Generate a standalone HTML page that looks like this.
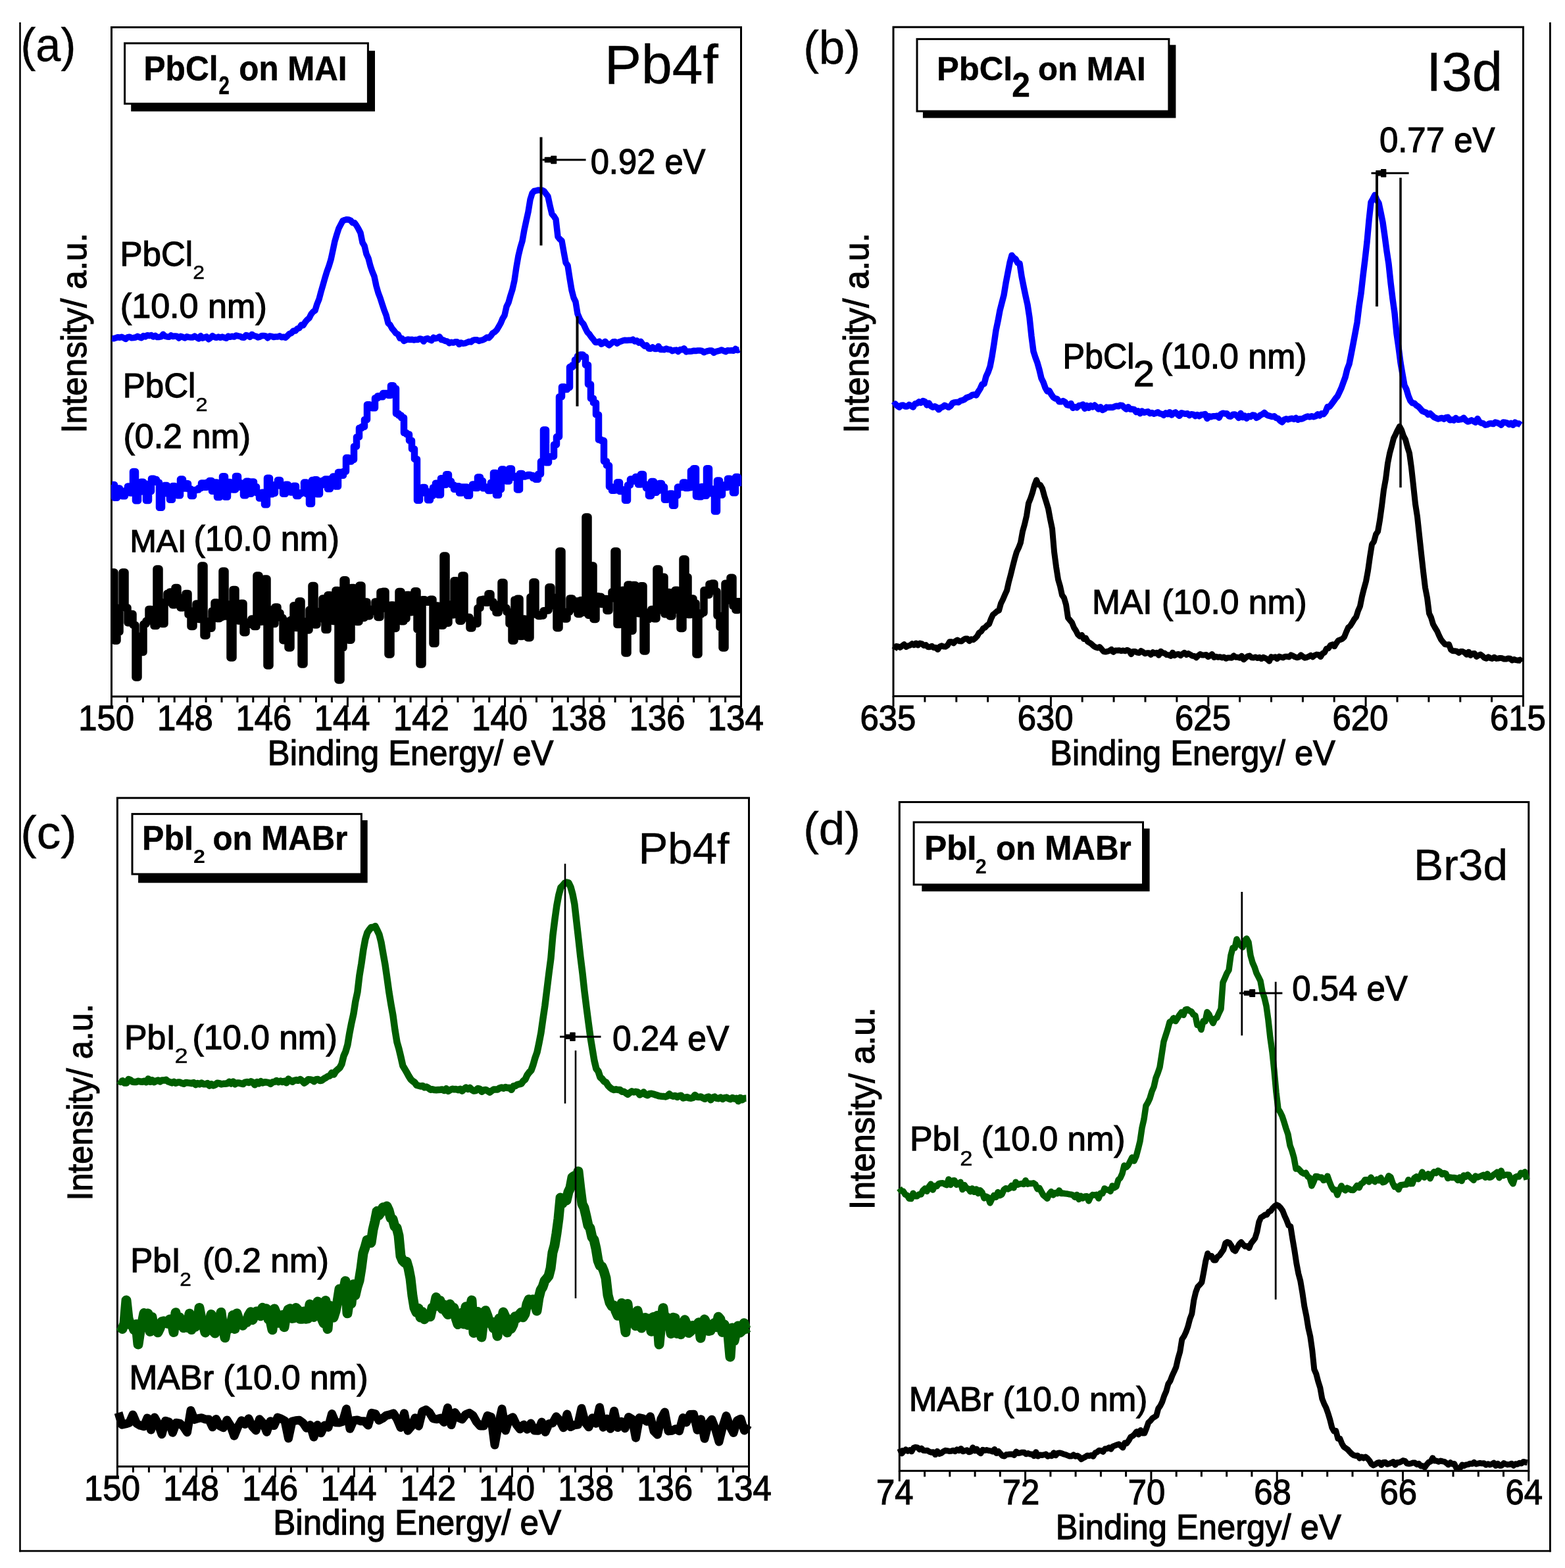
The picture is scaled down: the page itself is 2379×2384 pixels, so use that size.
<!DOCTYPE html>
<html><head><meta charset="utf-8"><title>XPS spectra</title>
<style>html,body{margin:0;padding:0;background:#fff;overflow:hidden;}svg{display:block;}text{font-family:'Liberation Sans', Arial, sans-serif;font-kerning:none;}</style>
</head><body>
<svg width="2379" height="2384" viewBox="0 0 2379 2384">
<rect width="2379" height="2384" fill="#fff"/>
<line x1="30.5" y1="34.0" x2="30.5" y2="2359.5" stroke="#000" stroke-width="2.6"/>
<line x1="29.2" y1="2358.2" x2="2357.8" y2="2358.2" stroke="#000" stroke-width="2.8"/>
<line x1="2356.4" y1="34.0" x2="2356.4" y2="2359.5" stroke="#000" stroke-width="2.8"/>
<rect x="169.5" y="41.5" width="957.0" height="1017.5" fill="none" stroke="#000" stroke-width="3"/>
<line x1="169.5" y1="1059.0" x2="169.5" y2="1075.0" stroke="#000" stroke-width="3"/>
<line x1="193.4" y1="1059.0" x2="193.4" y2="1068.0" stroke="#000" stroke-width="3"/>
<line x1="217.4" y1="1059.0" x2="217.4" y2="1068.0" stroke="#000" stroke-width="3"/>
<line x1="241.3" y1="1059.0" x2="241.3" y2="1068.0" stroke="#000" stroke-width="3"/>
<line x1="265.2" y1="1059.0" x2="265.2" y2="1068.0" stroke="#000" stroke-width="3"/>
<line x1="289.1" y1="1059.0" x2="289.1" y2="1075.0" stroke="#000" stroke-width="3"/>
<line x1="313.1" y1="1059.0" x2="313.1" y2="1068.0" stroke="#000" stroke-width="3"/>
<line x1="337.0" y1="1059.0" x2="337.0" y2="1068.0" stroke="#000" stroke-width="3"/>
<line x1="360.9" y1="1059.0" x2="360.9" y2="1068.0" stroke="#000" stroke-width="3"/>
<line x1="384.8" y1="1059.0" x2="384.8" y2="1068.0" stroke="#000" stroke-width="3"/>
<line x1="408.8" y1="1059.0" x2="408.8" y2="1075.0" stroke="#000" stroke-width="3"/>
<line x1="432.7" y1="1059.0" x2="432.7" y2="1068.0" stroke="#000" stroke-width="3"/>
<line x1="456.6" y1="1059.0" x2="456.6" y2="1068.0" stroke="#000" stroke-width="3"/>
<line x1="480.5" y1="1059.0" x2="480.5" y2="1068.0" stroke="#000" stroke-width="3"/>
<line x1="504.4" y1="1059.0" x2="504.4" y2="1068.0" stroke="#000" stroke-width="3"/>
<line x1="528.4" y1="1059.0" x2="528.4" y2="1075.0" stroke="#000" stroke-width="3"/>
<line x1="552.3" y1="1059.0" x2="552.3" y2="1068.0" stroke="#000" stroke-width="3"/>
<line x1="576.2" y1="1059.0" x2="576.2" y2="1068.0" stroke="#000" stroke-width="3"/>
<line x1="600.1" y1="1059.0" x2="600.1" y2="1068.0" stroke="#000" stroke-width="3"/>
<line x1="624.1" y1="1059.0" x2="624.1" y2="1068.0" stroke="#000" stroke-width="3"/>
<line x1="648.0" y1="1059.0" x2="648.0" y2="1075.0" stroke="#000" stroke-width="3"/>
<line x1="671.9" y1="1059.0" x2="671.9" y2="1068.0" stroke="#000" stroke-width="3"/>
<line x1="695.9" y1="1059.0" x2="695.9" y2="1068.0" stroke="#000" stroke-width="3"/>
<line x1="719.8" y1="1059.0" x2="719.8" y2="1068.0" stroke="#000" stroke-width="3"/>
<line x1="743.7" y1="1059.0" x2="743.7" y2="1068.0" stroke="#000" stroke-width="3"/>
<line x1="767.6" y1="1059.0" x2="767.6" y2="1075.0" stroke="#000" stroke-width="3"/>
<line x1="791.6" y1="1059.0" x2="791.6" y2="1068.0" stroke="#000" stroke-width="3"/>
<line x1="815.5" y1="1059.0" x2="815.5" y2="1068.0" stroke="#000" stroke-width="3"/>
<line x1="839.4" y1="1059.0" x2="839.4" y2="1068.0" stroke="#000" stroke-width="3"/>
<line x1="863.3" y1="1059.0" x2="863.3" y2="1068.0" stroke="#000" stroke-width="3"/>
<line x1="887.2" y1="1059.0" x2="887.2" y2="1075.0" stroke="#000" stroke-width="3"/>
<line x1="911.2" y1="1059.0" x2="911.2" y2="1068.0" stroke="#000" stroke-width="3"/>
<line x1="935.1" y1="1059.0" x2="935.1" y2="1068.0" stroke="#000" stroke-width="3"/>
<line x1="959.0" y1="1059.0" x2="959.0" y2="1068.0" stroke="#000" stroke-width="3"/>
<line x1="982.9" y1="1059.0" x2="982.9" y2="1068.0" stroke="#000" stroke-width="3"/>
<line x1="1006.9" y1="1059.0" x2="1006.9" y2="1075.0" stroke="#000" stroke-width="3"/>
<line x1="1030.8" y1="1059.0" x2="1030.8" y2="1068.0" stroke="#000" stroke-width="3"/>
<line x1="1054.7" y1="1059.0" x2="1054.7" y2="1068.0" stroke="#000" stroke-width="3"/>
<line x1="1078.6" y1="1059.0" x2="1078.6" y2="1068.0" stroke="#000" stroke-width="3"/>
<line x1="1102.6" y1="1059.0" x2="1102.6" y2="1068.0" stroke="#000" stroke-width="3"/>
<line x1="1126.5" y1="1059.0" x2="1126.5" y2="1075.0" stroke="#000" stroke-width="3"/>
<rect x="1358" y="41.2" width="957.5" height="1017.3" fill="none" stroke="#000" stroke-width="3"/>
<line x1="1358.0" y1="1058.5" x2="1358.0" y2="1074.5" stroke="#000" stroke-width="3"/>
<line x1="1405.9" y1="1058.5" x2="1405.9" y2="1067.5" stroke="#000" stroke-width="3"/>
<line x1="1453.8" y1="1058.5" x2="1453.8" y2="1067.5" stroke="#000" stroke-width="3"/>
<line x1="1501.6" y1="1058.5" x2="1501.6" y2="1067.5" stroke="#000" stroke-width="3"/>
<line x1="1549.5" y1="1058.5" x2="1549.5" y2="1067.5" stroke="#000" stroke-width="3"/>
<line x1="1597.4" y1="1058.5" x2="1597.4" y2="1074.5" stroke="#000" stroke-width="3"/>
<line x1="1645.2" y1="1058.5" x2="1645.2" y2="1067.5" stroke="#000" stroke-width="3"/>
<line x1="1693.1" y1="1058.5" x2="1693.1" y2="1067.5" stroke="#000" stroke-width="3"/>
<line x1="1741.0" y1="1058.5" x2="1741.0" y2="1067.5" stroke="#000" stroke-width="3"/>
<line x1="1788.9" y1="1058.5" x2="1788.9" y2="1067.5" stroke="#000" stroke-width="3"/>
<line x1="1836.8" y1="1058.5" x2="1836.8" y2="1074.5" stroke="#000" stroke-width="3"/>
<line x1="1884.6" y1="1058.5" x2="1884.6" y2="1067.5" stroke="#000" stroke-width="3"/>
<line x1="1932.5" y1="1058.5" x2="1932.5" y2="1067.5" stroke="#000" stroke-width="3"/>
<line x1="1980.4" y1="1058.5" x2="1980.4" y2="1067.5" stroke="#000" stroke-width="3"/>
<line x1="2028.2" y1="1058.5" x2="2028.2" y2="1067.5" stroke="#000" stroke-width="3"/>
<line x1="2076.1" y1="1058.5" x2="2076.1" y2="1074.5" stroke="#000" stroke-width="3"/>
<line x1="2124.0" y1="1058.5" x2="2124.0" y2="1067.5" stroke="#000" stroke-width="3"/>
<line x1="2171.9" y1="1058.5" x2="2171.9" y2="1067.5" stroke="#000" stroke-width="3"/>
<line x1="2219.8" y1="1058.5" x2="2219.8" y2="1067.5" stroke="#000" stroke-width="3"/>
<line x1="2267.6" y1="1058.5" x2="2267.6" y2="1067.5" stroke="#000" stroke-width="3"/>
<line x1="2315.5" y1="1058.5" x2="2315.5" y2="1074.5" stroke="#000" stroke-width="3"/>
<rect x="178.4" y="1213.2" width="960.1" height="1016.4999999999998" fill="none" stroke="#000" stroke-width="3"/>
<line x1="178.4" y1="2229.7" x2="178.4" y2="2245.7" stroke="#000" stroke-width="3"/>
<line x1="202.4" y1="2229.7" x2="202.4" y2="2238.7" stroke="#000" stroke-width="3"/>
<line x1="226.4" y1="2229.7" x2="226.4" y2="2238.7" stroke="#000" stroke-width="3"/>
<line x1="250.4" y1="2229.7" x2="250.4" y2="2238.7" stroke="#000" stroke-width="3"/>
<line x1="274.4" y1="2229.7" x2="274.4" y2="2238.7" stroke="#000" stroke-width="3"/>
<line x1="298.4" y1="2229.7" x2="298.4" y2="2245.7" stroke="#000" stroke-width="3"/>
<line x1="322.4" y1="2229.7" x2="322.4" y2="2238.7" stroke="#000" stroke-width="3"/>
<line x1="346.4" y1="2229.7" x2="346.4" y2="2238.7" stroke="#000" stroke-width="3"/>
<line x1="370.4" y1="2229.7" x2="370.4" y2="2238.7" stroke="#000" stroke-width="3"/>
<line x1="394.4" y1="2229.7" x2="394.4" y2="2238.7" stroke="#000" stroke-width="3"/>
<line x1="418.4" y1="2229.7" x2="418.4" y2="2245.7" stroke="#000" stroke-width="3"/>
<line x1="442.4" y1="2229.7" x2="442.4" y2="2238.7" stroke="#000" stroke-width="3"/>
<line x1="466.4" y1="2229.7" x2="466.4" y2="2238.7" stroke="#000" stroke-width="3"/>
<line x1="490.4" y1="2229.7" x2="490.4" y2="2238.7" stroke="#000" stroke-width="3"/>
<line x1="514.4" y1="2229.7" x2="514.4" y2="2238.7" stroke="#000" stroke-width="3"/>
<line x1="538.4" y1="2229.7" x2="538.4" y2="2245.7" stroke="#000" stroke-width="3"/>
<line x1="562.4" y1="2229.7" x2="562.4" y2="2238.7" stroke="#000" stroke-width="3"/>
<line x1="586.4" y1="2229.7" x2="586.4" y2="2238.7" stroke="#000" stroke-width="3"/>
<line x1="610.4" y1="2229.7" x2="610.4" y2="2238.7" stroke="#000" stroke-width="3"/>
<line x1="634.4" y1="2229.7" x2="634.4" y2="2238.7" stroke="#000" stroke-width="3"/>
<line x1="658.5" y1="2229.7" x2="658.5" y2="2245.7" stroke="#000" stroke-width="3"/>
<line x1="682.5" y1="2229.7" x2="682.5" y2="2238.7" stroke="#000" stroke-width="3"/>
<line x1="706.5" y1="2229.7" x2="706.5" y2="2238.7" stroke="#000" stroke-width="3"/>
<line x1="730.5" y1="2229.7" x2="730.5" y2="2238.7" stroke="#000" stroke-width="3"/>
<line x1="754.5" y1="2229.7" x2="754.5" y2="2238.7" stroke="#000" stroke-width="3"/>
<line x1="778.5" y1="2229.7" x2="778.5" y2="2245.7" stroke="#000" stroke-width="3"/>
<line x1="802.5" y1="2229.7" x2="802.5" y2="2238.7" stroke="#000" stroke-width="3"/>
<line x1="826.5" y1="2229.7" x2="826.5" y2="2238.7" stroke="#000" stroke-width="3"/>
<line x1="850.5" y1="2229.7" x2="850.5" y2="2238.7" stroke="#000" stroke-width="3"/>
<line x1="874.5" y1="2229.7" x2="874.5" y2="2238.7" stroke="#000" stroke-width="3"/>
<line x1="898.5" y1="2229.7" x2="898.5" y2="2245.7" stroke="#000" stroke-width="3"/>
<line x1="922.5" y1="2229.7" x2="922.5" y2="2238.7" stroke="#000" stroke-width="3"/>
<line x1="946.5" y1="2229.7" x2="946.5" y2="2238.7" stroke="#000" stroke-width="3"/>
<line x1="970.5" y1="2229.7" x2="970.5" y2="2238.7" stroke="#000" stroke-width="3"/>
<line x1="994.5" y1="2229.7" x2="994.5" y2="2238.7" stroke="#000" stroke-width="3"/>
<line x1="1018.5" y1="2229.7" x2="1018.5" y2="2245.7" stroke="#000" stroke-width="3"/>
<line x1="1042.5" y1="2229.7" x2="1042.5" y2="2238.7" stroke="#000" stroke-width="3"/>
<line x1="1066.5" y1="2229.7" x2="1066.5" y2="2238.7" stroke="#000" stroke-width="3"/>
<line x1="1090.5" y1="2229.7" x2="1090.5" y2="2238.7" stroke="#000" stroke-width="3"/>
<line x1="1114.5" y1="2229.7" x2="1114.5" y2="2238.7" stroke="#000" stroke-width="3"/>
<line x1="1138.5" y1="2229.7" x2="1138.5" y2="2245.7" stroke="#000" stroke-width="3"/>
<rect x="1367.3" y="1219.5" width="956.5000000000002" height="1016.8000000000002" fill="none" stroke="#000" stroke-width="3"/>
<line x1="1367.3" y1="2236.3" x2="1367.3" y2="2252.3" stroke="#000" stroke-width="3"/>
<line x1="1405.6" y1="2236.3" x2="1405.6" y2="2245.3" stroke="#000" stroke-width="3"/>
<line x1="1443.8" y1="2236.3" x2="1443.8" y2="2245.3" stroke="#000" stroke-width="3"/>
<line x1="1482.1" y1="2236.3" x2="1482.1" y2="2245.3" stroke="#000" stroke-width="3"/>
<line x1="1520.3" y1="2236.3" x2="1520.3" y2="2245.3" stroke="#000" stroke-width="3"/>
<line x1="1558.6" y1="2236.3" x2="1558.6" y2="2252.3" stroke="#000" stroke-width="3"/>
<line x1="1596.9" y1="2236.3" x2="1596.9" y2="2245.3" stroke="#000" stroke-width="3"/>
<line x1="1635.1" y1="2236.3" x2="1635.1" y2="2245.3" stroke="#000" stroke-width="3"/>
<line x1="1673.4" y1="2236.3" x2="1673.4" y2="2245.3" stroke="#000" stroke-width="3"/>
<line x1="1711.6" y1="2236.3" x2="1711.6" y2="2245.3" stroke="#000" stroke-width="3"/>
<line x1="1749.9" y1="2236.3" x2="1749.9" y2="2252.3" stroke="#000" stroke-width="3"/>
<line x1="1788.2" y1="2236.3" x2="1788.2" y2="2245.3" stroke="#000" stroke-width="3"/>
<line x1="1826.4" y1="2236.3" x2="1826.4" y2="2245.3" stroke="#000" stroke-width="3"/>
<line x1="1864.7" y1="2236.3" x2="1864.7" y2="2245.3" stroke="#000" stroke-width="3"/>
<line x1="1902.9" y1="2236.3" x2="1902.9" y2="2245.3" stroke="#000" stroke-width="3"/>
<line x1="1941.2" y1="2236.3" x2="1941.2" y2="2252.3" stroke="#000" stroke-width="3"/>
<line x1="1979.5" y1="2236.3" x2="1979.5" y2="2245.3" stroke="#000" stroke-width="3"/>
<line x1="2017.7" y1="2236.3" x2="2017.7" y2="2245.3" stroke="#000" stroke-width="3"/>
<line x1="2056.0" y1="2236.3" x2="2056.0" y2="2245.3" stroke="#000" stroke-width="3"/>
<line x1="2094.2" y1="2236.3" x2="2094.2" y2="2245.3" stroke="#000" stroke-width="3"/>
<line x1="2132.5" y1="2236.3" x2="2132.5" y2="2252.3" stroke="#000" stroke-width="3"/>
<line x1="2170.8" y1="2236.3" x2="2170.8" y2="2245.3" stroke="#000" stroke-width="3"/>
<line x1="2209.0" y1="2236.3" x2="2209.0" y2="2245.3" stroke="#000" stroke-width="3"/>
<line x1="2247.3" y1="2236.3" x2="2247.3" y2="2245.3" stroke="#000" stroke-width="3"/>
<line x1="2285.5" y1="2236.3" x2="2285.5" y2="2245.3" stroke="#000" stroke-width="3"/>
<line x1="2323.8" y1="2236.3" x2="2323.8" y2="2252.3" stroke="#000" stroke-width="3"/>
<text x="119.2" y="1110.0" font-size="53.5" stroke="#000" stroke-width="1.25" textLength="84.8" lengthAdjust="spacingAndGlyphs" fill="#000">150</text>
<text x="238.9" y="1110.0" font-size="53.5" stroke="#000" stroke-width="1.25" textLength="84.8" lengthAdjust="spacingAndGlyphs" fill="#000">148</text>
<text x="358.5" y="1110.0" font-size="53.5" stroke="#000" stroke-width="1.25" textLength="84.8" lengthAdjust="spacingAndGlyphs" fill="#000">146</text>
<text x="477.8" y="1110.0" font-size="53.5" stroke="#000" stroke-width="1.25" textLength="84.8" lengthAdjust="spacingAndGlyphs" fill="#000">144</text>
<text x="597.9" y="1110.0" font-size="53.5" stroke="#000" stroke-width="1.25" textLength="84.8" lengthAdjust="spacingAndGlyphs" fill="#000">142</text>
<text x="717.3" y="1110.0" font-size="53.5" stroke="#000" stroke-width="1.25" textLength="84.8" lengthAdjust="spacingAndGlyphs" fill="#000">140</text>
<text x="837.0" y="1110.0" font-size="53.5" stroke="#000" stroke-width="1.25" textLength="84.8" lengthAdjust="spacingAndGlyphs" fill="#000">138</text>
<text x="956.7" y="1110.0" font-size="53.5" stroke="#000" stroke-width="1.25" textLength="84.8" lengthAdjust="spacingAndGlyphs" fill="#000">136</text>
<text x="1075.9" y="1110.0" font-size="53.5" stroke="#000" stroke-width="1.25" textLength="84.8" lengthAdjust="spacingAndGlyphs" fill="#000">134</text>
<text x="1307.4" y="1110.0" font-size="53.5" stroke="#000" stroke-width="1.25" textLength="84.8" lengthAdjust="spacingAndGlyphs" fill="#000">635</text>
<text x="1546.7" y="1110.0" font-size="53.5" stroke="#000" stroke-width="1.25" textLength="84.8" lengthAdjust="spacingAndGlyphs" fill="#000">630</text>
<text x="1786.1" y="1110.0" font-size="53.5" stroke="#000" stroke-width="1.25" textLength="84.8" lengthAdjust="spacingAndGlyphs" fill="#000">625</text>
<text x="2025.4" y="1110.0" font-size="53.5" stroke="#000" stroke-width="1.25" textLength="84.8" lengthAdjust="spacingAndGlyphs" fill="#000">620</text>
<text x="2264.9" y="1110.0" font-size="53.5" stroke="#000" stroke-width="1.25" textLength="84.8" lengthAdjust="spacingAndGlyphs" fill="#000">615</text>
<text x="128.1" y="2280.5" font-size="53.5" stroke="#000" stroke-width="1.25" textLength="84.8" lengthAdjust="spacingAndGlyphs" fill="#000">150</text>
<text x="248.2" y="2280.5" font-size="53.5" stroke="#000" stroke-width="1.25" textLength="84.8" lengthAdjust="spacingAndGlyphs" fill="#000">148</text>
<text x="368.2" y="2280.5" font-size="53.5" stroke="#000" stroke-width="1.25" textLength="84.8" lengthAdjust="spacingAndGlyphs" fill="#000">146</text>
<text x="487.8" y="2280.5" font-size="53.5" stroke="#000" stroke-width="1.25" textLength="84.8" lengthAdjust="spacingAndGlyphs" fill="#000">144</text>
<text x="608.4" y="2280.5" font-size="53.5" stroke="#000" stroke-width="1.25" textLength="84.8" lengthAdjust="spacingAndGlyphs" fill="#000">142</text>
<text x="728.1" y="2280.5" font-size="53.5" stroke="#000" stroke-width="1.25" textLength="84.8" lengthAdjust="spacingAndGlyphs" fill="#000">140</text>
<text x="848.2" y="2280.5" font-size="53.5" stroke="#000" stroke-width="1.25" textLength="84.8" lengthAdjust="spacingAndGlyphs" fill="#000">138</text>
<text x="968.3" y="2280.5" font-size="53.5" stroke="#000" stroke-width="1.25" textLength="84.8" lengthAdjust="spacingAndGlyphs" fill="#000">136</text>
<text x="1087.9" y="2280.5" font-size="53.5" stroke="#000" stroke-width="1.25" textLength="84.8" lengthAdjust="spacingAndGlyphs" fill="#000">134</text>
<text x="1332.0" y="2286.5" font-size="53.5" stroke="#000" stroke-width="1.25" textLength="56.5" lengthAdjust="spacingAndGlyphs" fill="#000">74</text>
<text x="1523.8" y="2286.5" font-size="53.5" stroke="#000" stroke-width="1.25" textLength="56.5" lengthAdjust="spacingAndGlyphs" fill="#000">72</text>
<text x="1714.8" y="2286.5" font-size="53.5" stroke="#000" stroke-width="1.25" textLength="56.5" lengthAdjust="spacingAndGlyphs" fill="#000">70</text>
<text x="1906.2" y="2286.5" font-size="53.5" stroke="#000" stroke-width="1.25" textLength="56.5" lengthAdjust="spacingAndGlyphs" fill="#000">68</text>
<text x="2097.6" y="2286.5" font-size="53.5" stroke="#000" stroke-width="1.25" textLength="56.5" lengthAdjust="spacingAndGlyphs" fill="#000">66</text>
<text x="2288.5" y="2286.5" font-size="53.5" stroke="#000" stroke-width="1.25" textLength="56.5" lengthAdjust="spacingAndGlyphs" fill="#000">64</text>
<text x="406.8" y="1162.8" font-size="53.5" stroke="#000" stroke-width="1.25" textLength="434.6" lengthAdjust="spacingAndGlyphs" fill="#000">Binding Energy/ eV</text>
<text x="1596.1" y="1162.5" font-size="53.5" stroke="#000" stroke-width="1.25" textLength="433.8" lengthAdjust="spacingAndGlyphs" fill="#000">Binding Energy/ eV</text>
<text x="415.2" y="2333.0" font-size="53.5" stroke="#000" stroke-width="1.25" textLength="438.0" lengthAdjust="spacingAndGlyphs" fill="#000">Binding Energy/ eV</text>
<text x="1604.8" y="2339.5" font-size="53.5" stroke="#000" stroke-width="1.25" textLength="434.0" lengthAdjust="spacingAndGlyphs" fill="#000">Binding Energy/ eV</text>
<text transform="translate(130.7,654.0) rotate(-90)" x="-4.7" y="0" font-size="54.5" textLength="304.4" lengthAdjust="spacingAndGlyphs" stroke="#000" stroke-width="1.25">Intensity/ a.u.</text>
<text transform="translate(1319.7,654.0) rotate(-90)" x="-4.7" y="0" font-size="54.5" textLength="304.4" lengthAdjust="spacingAndGlyphs" stroke="#000" stroke-width="1.25">Intensity/ a.u.</text>
<text transform="translate(140.4,1821.0) rotate(-90)" x="-4.6" y="0" font-size="54.5" textLength="299.2" lengthAdjust="spacingAndGlyphs" stroke="#000" stroke-width="1.25">Intensity/ a.u.</text>
<text transform="translate(1328.5,1834.4) rotate(-90)" x="-4.8" y="0" font-size="54.5" textLength="307.5" lengthAdjust="spacingAndGlyphs" stroke="#000" stroke-width="1.25">Intensity/ a.u.</text>
<text x="31.5" y="93.0" font-size="72.0" stroke="#000" stroke-width="0.40" textLength="83.7" lengthAdjust="spacingAndGlyphs" fill="#000">(a)</text>
<text x="1221.2" y="96.5" font-size="72.0" stroke="#000" stroke-width="0.40" textLength="86.6" lengthAdjust="spacingAndGlyphs" fill="#000">(b)</text>
<text x="31.3" y="1290.0" font-size="70.0" stroke="#000" stroke-width="0.40" textLength="85.3" lengthAdjust="spacingAndGlyphs" fill="#000">(c)</text>
<text x="1221.2" y="1284.0" font-size="70.0" stroke="#000" stroke-width="0.40" textLength="86.6" lengthAdjust="spacingAndGlyphs" fill="#000">(d)</text>
<text x="919.1" y="126.5" font-size="83.0" stroke="#000" stroke-width="0.40" textLength="172.8" lengthAdjust="spacingAndGlyphs" fill="#000">Pb4f</text>
<text x="2168.3" y="138.0" font-size="84.0" stroke="#000" stroke-width="0.40" textLength="115.8" lengthAdjust="spacingAndGlyphs" fill="#000">I3d</text>
<text x="970.5" y="1313.4" font-size="67.0" stroke="#000" stroke-width="0.40" textLength="138.3" lengthAdjust="spacingAndGlyphs" fill="#000">Pb4f</text>
<text x="2149.1" y="1338.3" font-size="66.5" stroke="#000" stroke-width="0.40" textLength="143.0" lengthAdjust="spacingAndGlyphs" fill="#000">Br3d</text>
<rect x="199.2" y="77.2" width="370.8" height="92.2" fill="#000"/>
<rect x="189.6" y="65.8" width="369.79999999999995" height="91.89999999999999" fill="#fff" stroke="#000" stroke-width="3"/>
<text x="218.5" y="121.9" font-size="51.0" font-weight="bold" stroke="#000" stroke-width="0.50" textLength="113.0" lengthAdjust="spacingAndGlyphs" fill="#000">PbCl</text>
<text x="332.6" y="142.6" font-size="38.0" font-weight="bold" stroke="#000" stroke-width="0.50" textLength="16.4" lengthAdjust="spacingAndGlyphs" fill="#000">2</text>
<text x="363.3" y="121.9" font-size="51.0" font-weight="bold" stroke="#000" stroke-width="0.50" textLength="164.2" lengthAdjust="spacingAndGlyphs" fill="#000">on MAI</text>
<rect x="1402.9" y="68.3" width="384.5" height="111.10000000000001" fill="#000"/>
<rect x="1394" y="59.4" width="382.9000000000001" height="109.69999999999999" fill="#fff" stroke="#000" stroke-width="3"/>
<text x="1424.1" y="122.4" font-size="50.5" font-weight="bold" stroke="#000" stroke-width="0.50" textLength="115.3" lengthAdjust="spacingAndGlyphs" fill="#000">PbCl</text>
<text x="1538.3" y="146.8" font-size="51.5" font-weight="bold" stroke="#000" stroke-width="0.50" textLength="27.7" lengthAdjust="spacingAndGlyphs" fill="#000">2</text>
<text x="1578.1" y="122.4" font-size="50.5" font-weight="bold" stroke="#000" stroke-width="0.50" textLength="163.6" lengthAdjust="spacingAndGlyphs" fill="#000">on MAI</text>
<rect x="210.1" y="1247.1" width="348.6" height="95.20000000000005" fill="#000"/>
<rect x="201" y="1237.6" width="348.4" height="91.40000000000009" fill="#fff" stroke="#000" stroke-width="3"/>
<text x="216.1" y="1291.6" font-size="52.0" font-weight="bold" stroke="#000" stroke-width="0.50" textLength="77.8" lengthAdjust="spacingAndGlyphs" fill="#000">PbI</text>
<text x="293.9" y="1312.0" font-size="30.0" font-weight="bold" textLength="18.0" lengthAdjust="spacingAndGlyphs" fill="#000">2</text>
<text x="323.6" y="1291.6" font-size="52.0" font-weight="bold" stroke="#000" stroke-width="0.50" textLength="204.7" lengthAdjust="spacingAndGlyphs" fill="#000">on MABr</text>
<rect x="1401.3" y="1259.7" width="346.29999999999995" height="95.59999999999991" fill="#000"/>
<rect x="1389.1" y="1250.1" width="348.4000000000001" height="94.90000000000009" fill="#fff" stroke="#000" stroke-width="3"/>
<text x="1405.2" y="1307.0" font-size="52.0" font-weight="bold" stroke="#000" stroke-width="0.50" textLength="79.2" lengthAdjust="spacingAndGlyphs" fill="#000">PbI</text>
<text x="1482.8" y="1327.8" font-size="31.0" font-weight="bold" textLength="17.1" lengthAdjust="spacingAndGlyphs" fill="#000">2</text>
<text x="1514.1" y="1307.0" font-size="52.0" font-weight="bold" stroke="#000" stroke-width="0.50" textLength="205.7" lengthAdjust="spacingAndGlyphs" fill="#000">on MABr</text>
<polyline points="170.0,514.5 173.0,514.8 176.0,513.8 179.0,512.7 182.0,513.2 185.0,512.3 188.0,513.7 191.0,515.5 194.0,512.6 197.0,512.2 200.0,513.7 203.0,513.5 206.0,513.0 209.0,511.4 212.0,512.7 215.0,513.7 218.0,510.6 221.0,511.9 224.0,509.7 227.0,510.5 230.0,509.6 233.0,512.0 236.0,510.4 239.0,512.6 242.0,512.4 245.0,511.8 248.0,508.3 251.0,511.2 254.0,512.0 257.0,512.3 260.0,509.9 263.0,511.5 266.0,510.9 269.0,511.2 272.0,514.0 275.0,511.3 278.0,512.5 281.0,513.9 284.0,511.8 287.0,512.6 290.0,513.0 293.0,513.0 296.0,511.1 299.0,513.1 302.0,515.0 305.0,510.6 308.0,514.1 311.0,513.0 314.0,511.8 317.0,515.7 320.0,513.7 323.0,510.7 326.0,512.6 329.0,513.3 332.0,512.1 335.0,513.3 338.0,512.1 341.0,513.2 344.0,514.3 347.0,511.0 350.0,512.3 353.0,511.2 356.0,512.1 359.0,510.0 362.0,510.9 365.0,511.4 368.0,513.0 371.0,513.3 374.0,509.5 377.0,510.3 380.0,512.4 383.0,508.4 386.0,510.6 389.0,511.1 392.0,513.0 395.0,512.1 398.0,510.5 401.0,510.5 404.0,510.9 407.0,513.7 410.0,511.0 413.0,511.4 416.0,512.5 419.0,512.0 422.0,512.1 425.0,510.9 428.0,512.7 431.0,512.3 434.0,513.4 437.0,510.5 440.0,507.4 443.0,506.4 446.0,502.9 449.0,503.1 452.0,499.7 455.0,498.7 458.0,494.0 461.0,494.6 464.0,489.7 467.0,486.2 470.0,483.7 473.0,477.6 476.0,474.0 479.0,472.0 482.0,462.2 485.0,454.9 488.0,443.5 491.0,433.2 494.0,422.5 497.0,412.7 500.0,404.5 503.0,394.7 506.0,380.7 509.0,366.6 512.0,356.4 515.0,347.1 518.0,341.4 521.0,335.7 524.0,334.5 527.0,333.7 530.0,334.0 533.0,335.1 536.0,338.7 539.0,338.8 542.0,343.0 545.0,348.2 548.0,354.0 551.0,368.7 554.0,373.7 557.0,386.3 560.0,392.8 563.0,404.4 566.0,413.2 569.0,420.4 572.0,434.7 575.0,445.2 578.0,453.1 581.0,462.5 584.0,471.6 587.0,479.2 590.0,491.2 593.0,494.0 596.0,499.3 599.0,502.8 602.0,506.8 605.0,508.2 608.0,514.3 611.0,514.5 614.0,518.4 617.0,517.0 620.0,516.0 623.0,516.5 626.0,516.2 629.0,517.0 632.0,516.4 635.0,516.6 638.0,514.9 641.0,515.7 644.0,519.1 647.0,515.4 650.0,514.6 653.0,516.4 656.0,517.7 659.0,513.2 662.0,514.8 665.0,513.9 668.0,511.9 671.0,516.6 674.0,517.0 677.0,518.6 680.0,518.9 683.0,521.7 686.0,520.3 689.0,521.1 692.0,519.7 695.0,519.7 698.0,523.6 701.0,521.0 704.0,522.3 707.0,521.9 710.0,520.6 713.0,519.3 716.0,519.9 719.0,517.3 722.0,516.7 725.0,516.8 728.0,518.4 731.0,517.5 734.0,516.9 737.0,515.3 740.0,513.0 743.0,513.7 746.0,510.9 749.0,506.5 752.0,504.7 755.0,501.9 758.0,496.8 761.0,491.7 764.0,484.4 767.0,479.5 770.0,466.1 773.0,460.0 776.0,449.4 779.0,440.0 782.0,426.4 785.0,406.1 788.0,388.9 791.0,376.3 794.0,366.3 797.0,349.4 800.0,335.5 803.0,321.9 806.0,303.5 809.0,293.9 812.0,290.5 815.0,289.9 818.0,289.1 821.0,289.2 824.0,289.2 827.0,290.5 830.0,294.7 833.0,298.7 836.0,312.7 839.0,325.4 842.0,328.7 845.0,333.6 848.0,360.0 851.0,363.6 854.0,366.2 857.0,383.0 860.0,399.2 863.0,403.6 866.0,423.0 869.0,441.0 872.0,452.6 875.0,458.9 878.0,477.2 881.0,484.2 884.0,489.6 887.0,492.8 890.0,499.3 893.0,505.2 896.0,508.2 899.0,512.6 902.0,516.1 905.0,520.4 908.0,520.5 911.0,519.1 914.0,523.2 917.0,521.7 920.0,519.2 923.0,522.6 926.0,524.8 929.0,522.3 932.0,519.8 935.0,519.6 938.0,522.1 941.0,520.0 944.0,519.0 947.0,517.9 950.0,517.2 953.0,517.5 956.0,517.2 959.0,517.3 962.0,516.1 965.0,519.0 968.0,517.8 971.0,521.1 974.0,519.2 977.0,523.5 980.0,526.2 983.0,524.8 986.0,530.0 989.0,530.2 992.0,527.9 995.0,530.4 998.0,530.4 1001.0,526.5 1004.0,531.4 1007.0,531.3 1010.0,531.7 1013.0,530.0 1016.0,531.3 1019.0,531.6 1022.0,533.7 1025.0,532.5 1028.0,532.1 1031.0,534.5 1034.0,531.5 1037.0,531.8 1040.0,529.8 1043.0,535.0 1046.0,534.2 1049.0,534.2 1052.0,533.9 1055.0,533.2 1058.0,533.5 1061.0,532.9 1064.0,533.0 1067.0,533.5 1070.0,535.8 1073.0,534.5 1076.0,533.6 1079.0,533.0 1082.0,533.0 1085.0,536.4 1088.0,534.6 1091.0,533.9 1094.0,533.2 1097.0,531.9 1100.0,533.4 1103.0,534.7 1106.0,532.7 1109.0,532.9 1112.0,532.8 1115.0,533.2 1118.0,530.5 1121.0,532.5 1124.0,531.5" fill="none" stroke="#0000ff" stroke-width="9.5" stroke-linejoin="round" stroke-linecap="butt"/>
<polyline points="170.0,737.0 174.0,737.0 174.0,756.8 178.0,756.8 178.0,742.5 182.0,742.5 182.0,749.2 186.0,749.2 186.0,754.3 190.0,754.3 190.0,746.1 194.0,746.1 194.0,739.5 198.0,739.5 198.0,749.5 202.0,749.5 202.0,716.9 206.0,716.9 206.0,761.3 210.0,761.3 210.0,747.7 214.0,747.7 214.0,732.7 218.0,732.7 218.0,735.4 222.0,735.4 222.0,761.0 226.0,761.0 226.0,747.0 230.0,747.0 230.0,727.7 234.0,727.7 234.0,729.1 238.0,729.1 238.0,733.4 242.0,733.4 242.0,771.7 246.0,771.7 246.0,740.1 250.0,740.1 250.0,737.9 254.0,737.9 254.0,750.5 258.0,750.5 258.0,759.8 262.0,759.8 262.0,739.1 266.0,739.1 266.0,749.1 270.0,749.1 270.0,753.3 274.0,753.3 274.0,728.6 278.0,728.6 278.0,742.4 282.0,742.4 282.0,735.2 286.0,735.2 286.0,743.3 290.0,743.3 290.0,754.1 294.0,754.1 294.0,745.2 298.0,745.2 298.0,744.6 302.0,744.6 302.0,741.9 306.0,741.9 306.0,734.4 310.0,734.4 310.0,740.8 314.0,740.8 314.0,733.8 318.0,733.8 318.0,731.1 322.0,731.1 322.0,746.8 326.0,746.8 326.0,733.4 330.0,733.4 330.0,756.1 334.0,756.1 334.0,751.5 338.0,751.5 338.0,724.3 342.0,724.3 342.0,755.6 346.0,755.6 346.0,733.1 350.0,733.1 350.0,744.3 354.0,744.3 354.0,744.4 358.0,744.4 358.0,724.0 362.0,724.0 362.0,734.0 366.0,734.0 366.0,741.1 370.0,741.1 370.0,753.2 374.0,753.2 374.0,731.7 378.0,731.7 378.0,750.8 382.0,750.8 382.0,732.4 386.0,732.4 386.0,740.0 390.0,740.0 390.0,749.3 394.0,749.3 394.0,757.6 398.0,757.6 398.0,748.7 402.0,748.7 402.0,767.3 406.0,767.3 406.0,726.7 410.0,726.7 410.0,751.3 414.0,751.3 414.0,749.9 418.0,749.9 418.0,736.7 422.0,736.7 422.0,729.9 426.0,729.9 426.0,738.8 430.0,738.8 430.0,750.8 434.0,750.8 434.0,736.7 438.0,736.7 438.0,742.3 442.0,742.3 442.0,748.6 446.0,748.6 446.0,738.8 450.0,738.8 450.0,754.0 454.0,754.0 454.0,750.5 458.0,750.5 458.0,748.7 462.0,748.7 462.0,733.6 466.0,733.6 466.0,751.1 470.0,751.1 470.0,766.0 474.0,766.0 474.0,730.1 478.0,730.1 478.0,729.2 482.0,729.2 482.0,751.3 486.0,751.3 486.0,737.4 490.0,737.4 490.0,730.7 494.0,730.7 494.0,728.4 498.0,728.4 498.0,743.3 502.0,743.3 502.0,727.9 506.0,727.9 506.0,724.4 510.0,724.4 510.0,739.6 514.0,739.6 514.0,717.9 518.0,717.9 518.0,722.7 522.0,722.7 522.0,716.8 526.0,716.8 526.0,696.1 530.0,696.1 530.0,701.6 534.0,701.6 534.0,698.7 538.0,698.7 538.0,678.7 542.0,678.7 542.0,664.4 546.0,664.4 546.0,650.8 550.0,650.8 550.0,648.8 554.0,648.8 554.0,638.0 558.0,638.0 558.0,615.2 562.0,615.2 562.0,618.2 566.0,618.2 566.0,620.3 570.0,620.3 570.0,605.3 574.0,605.3 574.0,602.2 578.0,602.2 578.0,603.2 582.0,603.2 582.0,598.1 586.0,598.1 586.0,598.1 590.0,598.1 590.0,600.9 594.0,600.9 594.0,586.3 598.0,586.3 598.0,590.4 602.0,590.4 602.0,628.7 606.0,628.7 606.0,631.6 610.0,631.6 610.0,635.0 614.0,635.0 614.0,658.1 618.0,658.1 618.0,660.3 622.0,660.3 622.0,669.8 626.0,669.8 626.0,682.5 630.0,682.5 630.0,697.9 634.0,697.9 634.0,760.8 638.0,760.8 638.0,749.7 642.0,749.7 642.0,741.0 646.0,741.0 646.0,747.1 650.0,747.1 650.0,760.3 654.0,760.3 654.0,753.7 658.0,753.7 658.0,741.3 662.0,741.3 662.0,734.8 666.0,734.8 666.0,752.6 670.0,752.6 670.0,727.2 674.0,727.2 674.0,737.1 678.0,737.1 678.0,721.2 682.0,721.2 682.0,731.6 686.0,731.6 686.0,737.2 690.0,737.2 690.0,743.7 694.0,743.7 694.0,739.3 698.0,739.3 698.0,749.6 702.0,749.6 702.0,740.5 706.0,740.5 706.0,740.6 710.0,740.6 710.0,753.8 714.0,753.8 714.0,741.5 718.0,741.5 718.0,736.4 722.0,736.4 722.0,742.0 726.0,742.0 726.0,725.5 730.0,725.5 730.0,731.1 734.0,731.1 734.0,742.2 738.0,742.2 738.0,740.4 742.0,740.4 742.0,746.0 746.0,746.0 746.0,733.8 750.0,733.8 750.0,718.9 754.0,718.9 754.0,752.8 758.0,752.8 758.0,744.0 762.0,744.0 762.0,713.6 766.0,713.6 766.0,715.8 770.0,715.8 770.0,731.6 774.0,731.6 774.0,712.4 778.0,712.4 778.0,725.7 782.0,725.7 782.0,724.1 786.0,724.1 786.0,744.4 790.0,744.4 790.0,719.9 794.0,719.9 794.0,724.6 798.0,724.6 798.0,723.6 802.0,723.6 802.0,721.9 806.0,721.9 806.0,723.0 810.0,723.0 810.0,726.7 814.0,726.7 814.0,728.8 818.0,728.8 818.0,720.8 822.0,720.8 822.0,701.6 826.0,701.6 826.0,653.5 830.0,653.5 830.0,703.3 834.0,703.3 834.0,694.2 838.0,694.2 838.0,693.9 842.0,693.9 842.0,676.0 846.0,676.0 846.0,664.1 850.0,664.1 850.0,603.2 854.0,603.2 854.0,588.2 858.0,588.2 858.0,592.1 862.0,592.1 862.0,588.7 866.0,588.7 866.0,558.1 870.0,558.1 870.0,555.3 874.0,555.3 874.0,547.1 878.0,547.1 878.0,541.4 882.0,541.4 882.0,539.4 886.0,539.4 886.0,542.4 890.0,542.4 890.0,554.7 894.0,554.7 894.0,584.3 898.0,584.3 898.0,605.8 902.0,605.8 902.0,612.4 906.0,612.4 906.0,630.4 910.0,630.4 910.0,668.5 914.0,668.5 914.0,670.1 918.0,670.1 918.0,701.3 922.0,701.3 922.0,707.6 926.0,707.6 926.0,740.1 930.0,740.1 930.0,745.7 934.0,745.7 934.0,745.2 938.0,745.2 938.0,733.3 942.0,733.3 942.0,747.1 946.0,747.1 946.0,744.5 950.0,744.5 950.0,760.8 954.0,760.8 954.0,737.5 958.0,737.5 958.0,728.6 962.0,728.6 962.0,731.5 966.0,731.5 966.0,725.0 970.0,725.0 970.0,736.6 974.0,736.6 974.0,721.0 978.0,721.0 978.0,736.2 982.0,736.2 982.0,742.0 986.0,742.0 986.0,753.9 990.0,753.9 990.0,731.9 994.0,731.9 994.0,748.7 998.0,748.7 998.0,745.8 1002.0,745.8 1002.0,735.0 1006.0,735.0 1006.0,740.1 1010.0,740.1 1010.0,759.7 1014.0,759.7 1014.0,759.2 1018.0,759.2 1018.0,750.6 1022.0,750.6 1022.0,768.8 1026.0,768.8 1026.0,753.4 1030.0,753.4 1030.0,740.6 1034.0,740.6 1034.0,741.0 1038.0,741.0 1038.0,733.4 1042.0,733.4 1042.0,742.1 1046.0,742.1 1046.0,741.2 1050.0,741.2 1050.0,715.7 1054.0,715.7 1054.0,712.2 1058.0,712.2 1058.0,754.7 1062.0,754.7 1062.0,755.2 1066.0,755.2 1066.0,740.1 1070.0,740.1 1070.0,753.7 1074.0,753.7 1074.0,712.2 1078.0,712.2 1078.0,742.9 1082.0,742.9 1082.0,750.6 1086.0,750.6 1086.0,777.6 1090.0,777.6 1090.0,730.4 1094.0,730.4 1094.0,752.6 1098.0,752.6 1098.0,737.5 1102.0,737.5 1102.0,740.9 1106.0,740.9 1106.0,727.8 1110.0,727.8 1110.0,736.6 1114.0,736.6 1114.0,749.2 1118.0,749.2 1118.0,725.1 1122.0,725.1 1122.0,739.2" fill="none" stroke="#0000ff" stroke-width="10.5" stroke-linejoin="round" stroke-linecap="butt"/>
<polyline points="170.0,870.0 174.0,870.0 174.0,974.3 178.0,974.3 178.0,960.6 182.0,960.6 182.0,924.1 186.0,924.1 186.0,870.0 190.0,870.0 190.0,923.7 194.0,923.7 194.0,946.7 198.0,946.7 198.0,933.5 202.0,933.5 202.0,950.3 206.0,950.3 206.0,1030.0 210.0,1030.0 210.0,967.4 214.0,967.4 214.0,991.4 218.0,991.4 218.0,948.7 222.0,948.7 222.0,944.0 226.0,944.0 226.0,926.4 230.0,926.4 230.0,944.0 234.0,944.0 234.0,951.6 238.0,951.6 238.0,865.0 242.0,865.0 242.0,931.5 246.0,931.5 246.0,948.5 250.0,948.5 250.0,915.8 254.0,915.8 254.0,902.2 258.0,902.2 258.0,900.0 262.0,900.0 262.0,919.8 266.0,919.8 266.0,893.6 270.0,893.6 270.0,916.7 274.0,916.7 274.0,924.0 278.0,924.0 278.0,908.7 282.0,908.7 282.0,902.4 286.0,902.4 286.0,934.4 290.0,934.4 290.0,952.4 294.0,952.4 294.0,928.7 298.0,928.7 298.0,917.9 302.0,917.9 302.0,941.5 306.0,941.5 306.0,860.0 310.0,860.0 310.0,966.5 314.0,966.5 314.0,944.8 318.0,944.8 318.0,955.2 322.0,955.2 322.0,928.9 326.0,928.9 326.0,916.1 330.0,916.1 330.0,940.4 334.0,940.4 334.0,938.3 338.0,938.3 338.0,868.3 342.0,868.3 342.0,936.9 346.0,936.9 346.0,919.1 350.0,919.1 350.0,1000.0 354.0,1000.0 354.0,896.4 358.0,896.4 358.0,935.5 362.0,935.5 362.0,943.9 366.0,943.9 366.0,917.2 370.0,917.2 370.0,961.8 374.0,961.8 374.0,949.9 378.0,949.9 378.0,945.8 382.0,945.8 382.0,941.0 386.0,941.0 386.0,952.6 390.0,952.6 390.0,875.0 394.0,875.0 394.0,945.3 398.0,945.3 398.0,945.0 402.0,945.0 402.0,880.1 406.0,880.1 406.0,1012.0 410.0,1012.0 410.0,927.0 414.0,927.0 414.0,948.6 418.0,948.6 418.0,922.9 422.0,922.9 422.0,931.7 426.0,931.7 426.0,939.2 430.0,939.2 430.0,973.7 434.0,973.7 434.0,944.5 438.0,944.5 438.0,985.0 442.0,985.0 442.0,942.2 446.0,942.2 446.0,920.8 450.0,920.8 450.0,954.6 454.0,954.6 454.0,914.1 458.0,914.1 458.0,1010.0 462.0,1010.0 462.0,944.9 466.0,944.9 466.0,958.0 470.0,958.0 470.0,927.1 474.0,927.1 474.0,890.6 478.0,890.6 478.0,950.0 482.0,950.0 482.0,941.1 486.0,941.1 486.0,929.4 490.0,929.4 490.0,910.1 494.0,910.1 494.0,957.6 498.0,957.6 498.0,904.7 502.0,904.7 502.0,943.0 506.0,943.0 506.0,944.5 510.0,944.5 510.0,897.5 514.0,897.5 514.0,1034.0 518.0,1034.0 518.0,985.0 522.0,985.0 522.0,881.7 526.0,881.7 526.0,962.7 530.0,962.7 530.0,973.3 534.0,973.3 534.0,893.4 538.0,893.4 538.0,918.6 542.0,918.6 542.0,945.4 546.0,945.4 546.0,890.0 550.0,890.0 550.0,939.4 554.0,939.4 554.0,914.9 558.0,914.9 558.0,936.7 562.0,936.7 562.0,930.1 566.0,930.1 566.0,926.1 570.0,926.1 570.0,914.9 574.0,914.9 574.0,938.4 578.0,938.4 578.0,900.0 582.0,900.0 582.0,899.2 586.0,899.2 586.0,925.5 590.0,925.5 590.0,995.0 594.0,995.0 594.0,919.9 598.0,919.9 598.0,955.4 602.0,955.4 602.0,925.9 606.0,925.9 606.0,899.6 610.0,899.6 610.0,944.7 614.0,944.7 614.0,940.8 618.0,940.8 618.0,904.6 622.0,904.6 622.0,930.8 626.0,930.8 626.0,919.7 630.0,919.7 630.0,898.8 634.0,898.8 634.0,957.0 638.0,957.0 638.0,1010.0 642.0,1010.0 642.0,911.7 646.0,911.7 646.0,915.3 650.0,915.3 650.0,915.2 654.0,915.2 654.0,911.2 658.0,911.2 658.0,978.6 662.0,978.6 662.0,921.1 666.0,921.1 666.0,937.4 670.0,937.4 670.0,951.2 674.0,951.2 674.0,845.0 678.0,845.0 678.0,947.3 682.0,947.3 682.0,919.1 686.0,919.1 686.0,934.7 690.0,934.7 690.0,882.8 694.0,882.8 694.0,911.1 698.0,911.1 698.0,944.3 702.0,944.3 702.0,874.9 706.0,874.9 706.0,939.5 710.0,939.5 710.0,938.6 714.0,938.6 714.0,954.9 718.0,954.9 718.0,944.1 722.0,944.1 722.0,948.3 726.0,948.3 726.0,924.5 730.0,924.5 730.0,912.1 734.0,912.1 734.0,911.3 738.0,911.3 738.0,916.3 742.0,916.3 742.0,902.7 746.0,902.7 746.0,914.9 750.0,914.9 750.0,924.3 754.0,924.3 754.0,931.4 758.0,931.4 758.0,918.9 762.0,918.9 762.0,885.6 766.0,885.6 766.0,924.3 770.0,924.3 770.0,930.5 774.0,930.5 774.0,948.4 778.0,948.4 778.0,974.3 782.0,974.3 782.0,911.9 786.0,911.9 786.0,910.2 790.0,910.2 790.0,967.5 794.0,967.5 794.0,941.0 798.0,941.0 798.0,963.5 802.0,963.5 802.0,969.7 806.0,969.7 806.0,907.7 810.0,907.7 810.0,885.0 814.0,885.0 814.0,934.3 818.0,934.3 818.0,936.4 822.0,936.4 822.0,935.9 826.0,935.9 826.0,928.7 830.0,928.7 830.0,928.0 834.0,928.0 834.0,892.7 838.0,892.7 838.0,920.7 842.0,920.7 842.0,908.4 846.0,908.4 846.0,954.8 850.0,954.8 850.0,838.0 854.0,838.0 854.0,936.8 858.0,936.8 858.0,941.0 862.0,941.0 862.0,930.1 866.0,930.1 866.0,909.9 870.0,909.9 870.0,925.4 874.0,925.4 874.0,914.0 878.0,914.0 878.0,933.5 882.0,933.5 882.0,912.8 886.0,912.8 886.0,931.3 890.0,931.3 890.0,786.0 894.0,786.0 894.0,935.2 898.0,935.2 898.0,860.0 902.0,860.0 902.0,941.4 906.0,941.4 906.0,906.7 910.0,906.7 910.0,907.2 914.0,907.2 914.0,918.4 918.0,918.4 918.0,910.6 922.0,910.6 922.0,928.5 926.0,928.5 926.0,910.2 930.0,910.2 930.0,899.7 934.0,899.7 934.0,838.0 938.0,838.0 938.0,949.6 942.0,949.6 942.0,922.9 946.0,922.9 946.0,897.3 950.0,897.3 950.0,993.0 954.0,993.0 954.0,889.0 958.0,889.0 958.0,959.2 962.0,959.2 962.0,889.5 966.0,889.5 966.0,931.5 970.0,931.5 970.0,932.8 974.0,932.8 974.0,890.8 978.0,890.8 978.0,990.0 982.0,990.0 982.0,942.0 986.0,942.0 986.0,930.8 990.0,930.8 990.0,926.4 994.0,926.4 994.0,940.8 998.0,940.8 998.0,865.0 1002.0,865.0 1002.0,927.7 1006.0,927.7 1006.0,877.3 1010.0,877.3 1010.0,933.7 1014.0,933.7 1014.0,900.6 1018.0,900.6 1018.0,936.9 1022.0,936.9 1022.0,909.6 1026.0,909.6 1026.0,897.2 1030.0,897.2 1030.0,927.7 1034.0,927.7 1034.0,955.5 1038.0,955.5 1038.0,850.0 1042.0,850.0 1042.0,877.2 1046.0,877.2 1046.0,934.4 1050.0,934.4 1050.0,910.1 1054.0,910.1 1054.0,916.9 1058.0,916.9 1058.0,995.0 1062.0,995.0 1062.0,934.2 1066.0,934.2 1066.0,931.7 1070.0,931.7 1070.0,897.6 1074.0,897.6 1074.0,904.5 1078.0,904.5 1078.0,888.1 1082.0,888.1 1082.0,887.1 1086.0,887.1 1086.0,899.0 1090.0,899.0 1090.0,936.1 1094.0,936.1 1094.0,953.7 1098.0,953.7 1098.0,985.0 1102.0,985.0 1102.0,887.2 1106.0,887.2 1106.0,912.9 1110.0,912.9 1110.0,878.2 1114.0,878.2 1114.0,921.4 1118.0,921.4 1118.0,927.5 1122.0,927.5 1122.0,909.1" fill="none" stroke="#000" stroke-width="11.5" stroke-linejoin="round" stroke-linecap="butt"/>
<polyline points="1358.0,616.9 1361.0,614.3 1364.0,617.1 1367.0,619.2 1370.0,616.2 1373.0,616.1 1376.0,617.9 1379.0,617.9 1382.0,615.3 1385.0,617.0 1388.0,619.0 1391.0,614.0 1394.0,613.3 1397.0,610.9 1400.0,612.5 1403.0,609.5 1406.0,610.7 1409.0,615.9 1412.0,612.9 1415.0,617.4 1418.0,619.2 1421.0,617.8 1424.0,619.3 1427.0,622.8 1430.0,619.8 1433.0,618.7 1436.0,616.3 1439.0,617.7 1442.0,619.3 1445.0,617.3 1448.0,612.8 1451.0,611.9 1454.0,611.4 1457.0,611.8 1460.0,609.4 1463.0,608.7 1466.0,607.4 1469.0,604.8 1472.0,603.7 1475.0,602.6 1478.0,600.5 1481.0,600.0 1484.0,600.9 1487.0,595.6 1490.0,591.0 1493.0,584.2 1496.0,583.7 1499.0,572.2 1502.0,565.9 1505.0,557.4 1508.0,541.8 1511.0,522.9 1514.0,502.2 1517.0,488.1 1520.0,471.9 1523.0,460.3 1526.0,448.8 1529.0,430.4 1532.0,414.9 1535.0,399.3 1538.0,388.2 1541.0,391.9 1544.0,394.0 1547.0,399.7 1550.0,400.5 1553.0,420.1 1556.0,435.2 1559.0,449.7 1562.0,463.2 1565.0,482.9 1568.0,511.3 1571.0,534.3 1574.0,543.6 1577.0,551.7 1580.0,562.4 1583.0,575.2 1586.0,581.2 1589.0,589.7 1592.0,595.0 1595.0,594.0 1598.0,599.6 1601.0,603.8 1604.0,606.0 1607.0,606.4 1610.0,610.7 1613.0,610.8 1616.0,609.5 1619.0,611.3 1622.0,615.7 1625.0,616.4 1628.0,613.4 1631.0,620.3 1634.0,618.8 1637.0,619.9 1640.0,616.6 1643.0,616.6 1646.0,614.9 1649.0,621.3 1652.0,616.5 1655.0,620.2 1658.0,616.8 1661.0,618.9 1664.0,616.1 1667.0,619.0 1670.0,622.1 1673.0,618.7 1676.0,623.4 1679.0,622.0 1682.0,619.1 1685.0,619.6 1688.0,619.3 1691.0,619.6 1694.0,618.3 1697.0,617.3 1700.0,617.8 1703.0,616.1 1706.0,616.5 1709.0,619.6 1712.0,622.2 1715.0,618.7 1718.0,622.3 1721.0,622.1 1724.0,622.4 1727.0,626.5 1730.0,624.8 1733.0,628.7 1736.0,624.9 1739.0,627.3 1742.0,626.5 1745.0,625.8 1748.0,628.6 1751.0,627.5 1754.0,629.2 1757.0,628.3 1760.0,626.7 1763.0,628.8 1766.0,629.4 1769.0,631.3 1772.0,628.0 1775.0,629.7 1778.0,626.7 1781.0,631.1 1784.0,628.1 1787.0,626.9 1790.0,630.1 1793.0,632.3 1796.0,627.7 1799.0,628.6 1802.0,629.3 1805.0,628.7 1808.0,631.6 1811.0,629.7 1814.0,630.1 1817.0,632.6 1820.0,630.5 1823.0,632.8 1826.0,630.5 1829.0,630.4 1832.0,629.5 1835.0,636.4 1838.0,632.7 1841.0,633.7 1844.0,632.8 1847.0,632.8 1850.0,632.2 1853.0,635.2 1856.0,629.5 1859.0,628.2 1862.0,628.9 1865.0,628.7 1868.0,632.7 1871.0,633.2 1874.0,630.3 1877.0,629.9 1880.0,632.0 1883.0,635.5 1886.0,628.3 1889.0,634.6 1892.0,632.0 1895.0,636.2 1898.0,632.6 1901.0,633.6 1904.0,631.0 1907.0,631.5 1910.0,635.3 1913.0,633.8 1916.0,631.1 1919.0,629.8 1922.0,627.5 1925.0,630.4 1928.0,631.9 1931.0,632.7 1934.0,633.6 1937.0,632.7 1940.0,635.5 1943.0,636.4 1946.0,639.7 1949.0,641.7 1952.0,638.1 1955.0,636.8 1958.0,637.9 1961.0,636.8 1964.0,636.3 1967.0,637.4 1970.0,635.4 1973.0,638.2 1976.0,636.7 1979.0,636.9 1982.0,635.6 1985.0,634.1 1988.0,633.1 1991.0,633.9 1994.0,632.8 1997.0,633.7 2000.0,632.8 2003.0,629.8 2006.0,631.9 2009.0,628.8 2012.0,629.6 2015.0,626.0 2018.0,618.6 2021.0,618.4 2024.0,614.6 2027.0,610.4 2030.0,606.2 2033.0,602.7 2036.0,596.5 2039.0,590.0 2042.0,581.6 2045.0,573.5 2048.0,561.2 2051.0,553.4 2054.0,538.3 2057.0,522.6 2060.0,506.6 2063.0,490.3 2066.0,465.6 2069.0,445.8 2072.0,419.0 2075.0,394.5 2078.0,368.1 2081.0,335.1 2084.0,307.6 2087.0,302.2 2090.0,296.4 2093.0,304.0 2096.0,308.9 2099.0,323.3 2102.0,338.0 2105.0,359.1 2108.0,381.6 2111.0,401.2 2114.0,429.8 2117.0,454.3 2120.0,476.1 2123.0,507.2 2126.0,528.1 2129.0,551.5 2132.0,569.0 2135.0,585.9 2138.0,591.9 2141.0,602.1 2144.0,609.4 2147.0,612.7 2150.0,613.1 2153.0,616.4 2156.0,618.1 2159.0,621.3 2162.0,624.9 2165.0,626.3 2168.0,627.3 2171.0,630.4 2174.0,628.7 2177.0,631.5 2180.0,634.4 2183.0,635.7 2186.0,637.0 2189.0,636.2 2192.0,635.4 2195.0,637.1 2198.0,635.0 2201.0,634.3 2204.0,638.8 2207.0,638.1 2210.0,639.1 2213.0,635.6 2216.0,638.2 2219.0,637.9 2222.0,637.5 2225.0,635.2 2228.0,638.8 2231.0,641.1 2234.0,640.3 2237.0,638.9 2240.0,640.4 2243.0,642.3 2246.0,636.4 2249.0,641.6 2252.0,643.2 2255.0,643.9 2258.0,646.2 2261.0,645.6 2264.0,644.0 2267.0,643.8 2270.0,644.6 2273.0,642.0 2276.0,642.8 2279.0,644.3 2282.0,646.1 2285.0,642.1 2288.0,642.3 2291.0,643.1 2294.0,645.4 2297.0,643.3 2300.0,646.3 2303.0,642.2 2306.0,643.9 2309.0,644.1 2312.0,646.2" fill="none" stroke="#0000ff" stroke-width="9.5" stroke-linejoin="round" stroke-linecap="butt"/>
<polyline points="1359.5,987.9 1362.5,982.6 1365.5,982.9 1368.5,984.4 1371.5,981.9 1374.5,979.7 1377.5,983.5 1380.5,981.8 1383.5,981.1 1386.5,978.7 1389.5,980.7 1392.5,977.9 1395.5,981.0 1398.5,978.1 1401.5,978.9 1404.5,981.5 1407.5,980.5 1410.5,983.7 1413.5,983.7 1416.5,982.2 1419.5,984.7 1422.5,984.6 1425.5,987.6 1428.5,983.2 1431.5,981.8 1434.5,983.1 1437.5,983.2 1440.5,981.0 1443.5,975.8 1446.5,975.8 1449.5,977.9 1452.5,974.7 1455.5,973.0 1458.5,974.8 1461.5,975.1 1464.5,972.6 1467.5,970.9 1470.5,971.1 1473.5,974.7 1476.5,971.9 1479.5,972.8 1482.5,970.3 1485.5,967.2 1488.5,961.8 1491.5,960.1 1494.5,955.4 1497.5,954.1 1500.5,950.7 1503.5,948.9 1506.5,940.9 1509.5,934.5 1512.5,932.2 1515.5,929.5 1518.5,928.2 1521.5,917.6 1524.5,911.5 1527.5,904.4 1530.5,897.9 1533.5,884.6 1536.5,873.3 1539.5,861.0 1542.5,849.3 1545.5,839.1 1548.5,832.8 1551.5,824.8 1554.5,808.0 1557.5,797.3 1560.5,784.5 1563.5,765.3 1566.5,757.9 1569.5,748.9 1572.5,737.6 1575.5,729.8 1578.5,736.8 1581.5,737.5 1584.5,742.8 1587.5,753.8 1590.5,763.4 1593.5,773.4 1596.5,789.6 1599.5,804.0 1602.5,838.9 1605.5,861.7 1608.5,880.9 1611.5,891.3 1614.5,904.9 1617.5,909.0 1620.5,919.2 1623.5,939.4 1626.5,943.0 1629.5,946.7 1632.5,954.2 1635.5,958.8 1638.5,964.7 1641.5,967.5 1644.5,965.5 1647.5,971.5 1650.5,970.0 1653.5,975.6 1656.5,977.3 1659.5,979.4 1662.5,982.3 1665.5,984.0 1668.5,985.1 1671.5,983.5 1674.5,986.8 1677.5,990.5 1680.5,991.1 1683.5,990.3 1686.5,989.5 1689.5,987.3 1692.5,991.4 1695.5,988.9 1698.5,989.0 1701.5,988.8 1704.5,989.7 1707.5,989.0 1710.5,989.8 1713.5,988.2 1716.5,989.7 1719.5,994.7 1722.5,990.6 1725.5,990.5 1728.5,992.1 1731.5,992.7 1734.5,989.6 1737.5,991.4 1740.5,993.7 1743.5,992.7 1746.5,992.7 1749.5,995.5 1752.5,991.7 1755.5,993.3 1758.5,992.4 1761.5,996.3 1764.5,990.3 1767.5,992.8 1770.5,993.3 1773.5,995.6 1776.5,995.8 1779.5,997.4 1782.5,992.2 1785.5,996.6 1788.5,994.9 1791.5,994.4 1794.5,996.7 1797.5,994.2 1800.5,992.3 1803.5,995.5 1806.5,993.6 1809.5,995.3 1812.5,997.3 1815.5,997.4 1818.5,999.8 1821.5,996.8 1824.5,994.5 1827.5,996.1 1830.5,995.9 1833.5,995.5 1836.5,998.6 1839.5,996.8 1842.5,994.6 1845.5,999.5 1848.5,998.2 1851.5,999.2 1854.5,998.8 1857.5,999.9 1860.5,999.0 1863.5,1001.3 1866.5,999.9 1869.5,1000.0 1872.5,1000.2 1875.5,996.9 1878.5,999.3 1881.5,999.2 1884.5,1000.1 1887.5,997.3 1890.5,1002.8 1893.5,1000.1 1896.5,997.8 1899.5,997.0 1902.5,999.7 1905.5,1000.1 1908.5,999.0 1911.5,1000.6 1914.5,999.3 1917.5,1001.5 1920.5,999.3 1923.5,1000.6 1926.5,1002.4 1929.5,1005.2 1932.5,998.7 1935.5,999.6 1938.5,998.8 1941.5,1001.7 1944.5,998.1 1947.5,999.2 1950.5,1000.0 1953.5,998.2 1956.5,998.2 1959.5,998.9 1962.5,995.9 1965.5,997.1 1968.5,998.8 1971.5,999.8 1974.5,999.1 1977.5,996.0 1980.5,998.2 1983.5,1000.2 1986.5,999.5 1989.5,998.1 1992.5,996.4 1995.5,998.9 1998.5,996.4 2001.5,995.1 2004.5,995.5 2007.5,998.6 2010.5,993.4 2013.5,992.1 2016.5,986.1 2019.5,985.7 2022.5,981.0 2025.5,979.9 2028.5,982.8 2031.5,977.8 2034.5,973.7 2037.5,972.6 2040.5,971.3 2043.5,968.4 2046.5,960.9 2049.5,954.1 2052.5,951.7 2055.5,946.9 2058.5,941.7 2061.5,938.1 2064.5,928.6 2067.5,921.7 2070.5,906.6 2073.5,894.7 2076.5,883.9 2079.5,867.6 2082.5,846.4 2085.5,827.7 2088.5,823.4 2091.5,812.6 2094.5,808.1 2097.5,791.0 2100.5,769.3 2103.5,744.8 2106.5,728.2 2109.5,704.5 2112.5,689.3 2115.5,678.4 2118.5,666.6 2121.5,660.5 2124.5,654.0 2127.5,648.3 2130.5,653.6 2133.5,662.7 2136.5,668.4 2139.5,679.6 2142.5,689.1 2145.5,711.0 2148.5,738.3 2151.5,766.2 2154.5,785.5 2157.5,813.8 2160.5,841.6 2163.5,868.5 2166.5,893.5 2169.5,908.8 2172.5,932.6 2175.5,939.0 2178.5,949.1 2181.5,954.5 2184.5,959.3 2187.5,966.2 2190.5,972.3 2193.5,976.1 2196.5,979.5 2199.5,980.1 2202.5,979.7 2205.5,987.7 2208.5,989.8 2211.5,989.8 2214.5,990.2 2217.5,992.6 2220.5,990.5 2223.5,990.6 2226.5,992.2 2229.5,995.2 2232.5,991.2 2235.5,996.4 2238.5,993.7 2241.5,993.5 2244.5,998.4 2247.5,996.5 2250.5,995.0 2253.5,997.3 2256.5,1000.2 2259.5,1001.2 2262.5,998.8 2265.5,1000.6 2268.5,1001.4 2271.5,999.3 2274.5,1001.4 2277.5,1001.0 2280.5,1000.4 2283.5,1000.8 2286.5,1002.1 2289.5,1002.1 2292.5,1001.0 2295.5,1001.2 2298.5,1004.0 2301.5,1002.4 2304.5,1003.6 2307.5,1004.2 2310.5,1003.1 2313.5,1006.1" fill="none" stroke="#000" stroke-width="9" stroke-linejoin="round" stroke-linecap="butt"/>
<polyline points="180.4,1642.6 183.4,1645.0 186.4,1643.3 189.4,1646.6 192.4,1646.4 195.4,1640.9 198.4,1642.3 201.4,1644.8 204.4,1645.0 207.4,1644.9 210.4,1643.7 213.4,1644.5 216.4,1644.8 219.4,1643.7 222.4,1645.3 225.4,1640.4 228.4,1644.8 231.4,1642.2 234.4,1645.2 237.4,1643.5 240.4,1642.5 243.4,1644.4 246.4,1642.4 249.4,1642.6 252.4,1641.8 255.4,1644.3 258.4,1645.3 261.4,1646.4 264.4,1644.8 267.4,1646.8 270.4,1645.5 273.4,1645.6 276.4,1646.8 279.4,1647.8 282.4,1645.9 285.4,1646.3 288.4,1646.6 291.4,1647.2 294.4,1646.0 297.4,1649.1 300.4,1647.1 303.4,1648.4 306.4,1646.5 309.4,1648.2 312.4,1648.3 315.4,1647.1 318.4,1650.7 321.4,1648.3 324.4,1650.4 327.4,1649.1 330.4,1646.7 333.4,1647.1 336.4,1648.4 339.4,1647.8 342.4,1647.8 345.4,1647.3 348.4,1645.0 351.4,1647.4 354.4,1644.4 357.4,1648.3 360.4,1646.6 363.4,1646.6 366.4,1647.4 369.4,1648.1 372.4,1645.6 375.4,1645.1 378.4,1646.0 381.4,1644.3 384.4,1645.7 387.4,1649.3 390.4,1645.1 393.4,1647.5 396.4,1644.2 399.4,1646.5 402.4,1645.3 405.4,1645.5 408.4,1646.2 411.4,1647.8 414.4,1645.2 417.4,1644.9 420.4,1643.0 423.4,1645.1 426.4,1643.6 429.4,1645.0 432.4,1643.7 435.4,1646.3 438.4,1640.6 441.4,1643.1 444.4,1644.7 447.4,1642.8 450.4,1642.1 453.4,1642.8 456.4,1641.1 459.4,1643.2 462.4,1646.6 465.4,1644.6 468.4,1641.2 471.4,1641.4 474.4,1642.1 477.4,1644.1 480.4,1641.3 483.4,1641.1 486.4,1643.0 489.4,1642.5 492.4,1640.1 495.4,1638.5 498.4,1636.5 501.4,1635.7 504.4,1631.2 507.4,1633.6 510.4,1628.8 513.4,1626.0 516.4,1623.5 519.4,1618.0 522.4,1605.7 525.4,1598.8 528.4,1588.5 531.4,1570.4 534.4,1555.1 537.4,1541.7 540.4,1522.3 543.4,1508.5 546.4,1483.2 549.4,1465.0 552.4,1443.8 555.4,1427.8 558.4,1417.9 561.4,1413.6 564.4,1409.9 567.4,1410.1 570.4,1408.2 573.4,1414.4 576.4,1420.8 579.4,1432.5 582.4,1449.6 585.4,1466.2 588.4,1486.9 591.4,1508.7 594.4,1527.1 597.4,1543.8 600.4,1565.9 603.4,1584.2 606.4,1594.6 609.4,1607.3 612.4,1620.6 615.4,1625.5 618.4,1630.7 621.4,1636.1 624.4,1640.9 627.4,1643.8 630.4,1645.7 633.4,1650.0 636.4,1650.7 639.4,1651.5 642.4,1650.9 645.4,1653.3 648.4,1652.6 651.4,1654.3 654.4,1656.7 657.4,1656.3 660.4,1657.1 663.4,1657.3 666.4,1656.9 669.4,1656.7 672.4,1656.4 675.4,1658.0 678.4,1655.3 681.4,1658.9 684.4,1657.0 687.4,1655.8 690.4,1656.3 693.4,1656.0 696.4,1657.2 699.4,1655.9 702.4,1658.7 705.4,1655.8 708.4,1653.6 711.4,1655.9 714.4,1654.0 717.4,1656.9 720.4,1658.6 723.4,1658.0 726.4,1655.0 729.4,1655.9 732.4,1659.7 735.4,1657.5 738.4,1657.0 741.4,1658.6 744.4,1660.6 747.4,1658.5 750.4,1656.5 753.4,1656.5 756.4,1656.5 759.4,1654.4 762.4,1653.4 765.4,1654.7 768.4,1652.9 771.4,1653.9 774.4,1653.8 777.4,1656.8 780.4,1651.5 783.4,1650.9 786.4,1649.1 789.4,1648.3 792.4,1647.6 795.4,1643.5 798.4,1641.1 801.4,1634.6 804.4,1630.5 807.4,1627.4 810.4,1619.1 813.4,1608.5 816.4,1600.1 819.4,1585.8 822.4,1570.2 825.4,1549.1 828.4,1528.7 831.4,1504.4 834.4,1479.8 837.4,1457.1 840.4,1422.0 843.4,1398.0 846.4,1376.4 849.4,1360.6 852.4,1349.4 855.4,1346.4 858.4,1342.9 861.4,1341.6 864.4,1342.4 867.4,1348.5 870.4,1359.3 873.4,1374.8 876.4,1401.4 879.4,1427.8 882.4,1455.1 885.4,1479.1 888.4,1506.7 891.4,1530.8 894.4,1553.9 897.4,1576.3 900.4,1594.6 903.4,1612.5 906.4,1625.0 909.4,1628.7 912.4,1637.9 915.4,1640.4 918.4,1644.2 921.4,1645.7 924.4,1650.6 927.4,1653.6 930.4,1655.9 933.4,1657.0 936.4,1656.3 939.4,1657.0 942.4,1657.0 945.4,1659.7 948.4,1659.7 951.4,1661.8 954.4,1663.8 957.4,1661.3 960.4,1659.3 963.4,1660.5 966.4,1659.8 969.4,1660.4 972.4,1664.4 975.4,1663.0 978.4,1660.6 981.4,1664.1 984.4,1665.2 987.4,1663.0 990.4,1662.8 993.4,1663.5 996.4,1664.6 999.4,1665.4 1002.4,1666.4 1005.4,1666.7 1008.4,1666.9 1011.4,1667.4 1014.4,1666.5 1017.4,1663.5 1020.4,1665.8 1023.4,1666.7 1026.4,1665.9 1029.4,1668.0 1032.4,1666.4 1035.4,1665.7 1038.4,1669.5 1041.4,1668.6 1044.4,1668.1 1047.4,1669.4 1050.4,1669.8 1053.4,1669.0 1056.4,1665.0 1059.4,1667.7 1062.4,1668.1 1065.4,1667.4 1068.4,1669.3 1071.4,1670.8 1074.4,1668.4 1077.4,1667.5 1080.4,1672.3 1083.4,1668.7 1086.4,1667.6 1089.4,1669.9 1092.4,1670.2 1095.4,1668.6 1098.4,1671.0 1101.4,1669.1 1104.4,1668.6 1107.4,1670.3 1110.4,1671.2 1113.4,1669.0 1116.4,1670.5 1119.4,1669.9 1122.4,1674.2 1125.4,1668.9 1128.4,1672.1 1131.4,1669.9 1134.4,1669.8" fill="none" stroke="#005e00" stroke-width="10.5" stroke-linejoin="round" stroke-linecap="butt"/>
<polyline points="180.0,2015.5 183.0,2017.1 186.0,2020.5 189.0,2012.2 192.0,1977.0 195.0,2004.5 198.0,2014.0 201.0,2014.7 204.0,2022.1 207.0,2013.4 210.0,2044.0 213.0,2023.4 216.0,2011.3 219.0,1996.5 222.0,1999.3 225.0,1997.1 228.0,2024.4 231.0,2002.5 234.0,2021.3 237.0,2015.6 240.0,2025.8 243.0,2019.5 246.0,2009.6 249.0,2008.8 252.0,2011.4 255.0,2012.3 258.0,2006.0 261.0,2010.6 264.0,2025.4 267.0,1995.7 270.0,2013.4 273.0,2003.0 276.0,2012.9 279.0,2018.8 282.0,2010.8 285.0,2018.4 288.0,1997.2 291.0,2021.5 294.0,2006.2 297.0,2017.3 300.0,2013.4 303.0,1988.5 306.0,2005.1 309.0,2013.9 312.0,2025.9 315.0,2014.3 318.0,2013.8 321.0,1998.5 324.0,2023.8 327.0,2027.0 330.0,2010.7 333.0,2008.3 336.0,1995.4 339.0,2017.7 342.0,2033.8 345.0,2015.7 348.0,2020.4 351.0,2013.7 354.0,1999.7 357.0,2020.4 360.0,1997.0 363.0,2005.9 366.0,2010.1 369.0,2015.3 372.0,2010.9 375.0,2010.4 378.0,1999.8 381.0,1994.8 384.0,2006.7 387.0,1999.5 390.0,1993.9 393.0,1994.0 396.0,2000.8 399.0,1988.3 402.0,1992.6 405.0,1989.8 408.0,2005.9 411.0,2007.7 414.0,2021.8 417.0,1990.0 420.0,1997.2 423.0,2011.3 426.0,2000.8 429.0,1999.6 432.0,2017.7 435.0,1999.0 438.0,1991.4 441.0,1989.7 444.0,2004.4 447.0,2003.9 450.0,1988.5 453.0,1991.8 456.0,2005.2 459.0,2005.3 462.0,1994.1 465.0,2005.3 468.0,2004.6 471.0,1983.1 474.0,1996.1 477.0,2002.4 480.0,1993.3 483.0,1979.0 486.0,1995.4 489.0,2004.5 492.0,2011.7 495.0,1977.5 498.0,2020.5 501.0,1985.2 504.0,2002.3 507.0,2003.1 510.0,1993.6 513.0,1978.9 516.0,1959.9 519.0,1974.3 522.0,1963.1 525.0,1947.8 528.0,1996.8 531.0,1976.8 534.0,1982.0 537.0,1952.7 540.0,1969.4 543.0,1956.4 546.0,1947.2 549.0,1928.7 552.0,1905.5 555.0,1896.4 558.0,1885.6 561.0,1884.9 564.0,1889.4 567.0,1869.4 570.0,1857.0 573.0,1841.6 576.0,1847.7 579.0,1843.2 582.0,1835.8 585.0,1839.3 588.0,1834.0 591.0,1840.5 594.0,1852.0 597.0,1853.6 600.0,1864.9 603.0,1866.7 606.0,1878.5 609.0,1909.7 612.0,1916.7 615.0,1919.6 618.0,1918.2 621.0,1928.4 624.0,1943.8 627.0,1970.3 630.0,1988.4 633.0,1995.3 636.0,1989.2 639.0,2002.9 642.0,1994.5 645.0,2005.7 648.0,2002.0 651.0,2001.6 654.0,2001.8 657.0,1988.3 660.0,1987.1 663.0,1972.5 666.0,1985.1 669.0,1977.4 672.0,1990.0 675.0,1983.7 678.0,1994.4 681.0,1998.6 684.0,1982.9 687.0,1989.1 690.0,1988.5 693.0,2004.2 696.0,2013.5 699.0,2006.3 702.0,1996.1 705.0,2013.0 708.0,1986.8 711.0,2014.4 714.0,1995.6 717.0,1977.1 720.0,2026.5 723.0,2017.4 726.0,1994.5 729.0,2005.9 732.0,2033.0 735.0,2006.4 738.0,1992.7 741.0,2000.5 744.0,2011.4 747.0,2009.8 750.0,2019.3 753.0,2010.0 756.0,2031.2 759.0,2004.4 762.0,2013.9 765.0,1995.1 768.0,2001.9 771.0,2025.9 774.0,2006.2 777.0,2020.3 780.0,2014.2 783.0,2001.7 786.0,2004.3 789.0,1999.1 792.0,1995.6 795.0,2002.8 798.0,1997.9 801.0,1982.8 804.0,1975.8 807.0,1982.8 810.0,1975.7 813.0,1982.1 816.0,1993.0 819.0,1973.0 822.0,1961.4 825.0,1956.5 828.0,1947.3 831.0,1943.8 834.0,1940.0 837.0,1928.4 840.0,1904.2 843.0,1893.6 846.0,1875.1 849.0,1852.8 852.0,1821.1 855.0,1829.9 858.0,1822.7 861.0,1825.2 864.0,1812.2 867.0,1806.0 870.0,1790.0 873.0,1788.0 876.0,1796.3 879.0,1781.0 882.0,1807.7 885.0,1830.5 888.0,1836.4 891.0,1849.1 894.0,1863.1 897.0,1867.3 900.0,1881.0 903.0,1885.2 906.0,1898.2 909.0,1916.5 912.0,1924.4 915.0,1925.6 918.0,1932.9 921.0,1943.2 924.0,1969.1 927.0,1980.7 930.0,1985.7 933.0,1984.7 936.0,1993.5 939.0,2000.2 942.0,1999.8 945.0,1981.4 948.0,2004.6 951.0,2025.5 954.0,1982.5 957.0,2009.6 960.0,2004.7 963.0,2001.1 966.0,2015.7 969.0,1992.9 972.0,2006.2 975.0,2019.1 978.0,2004.7 981.0,2003.5 984.0,2009.3 987.0,2005.0 990.0,2024.3 993.0,2002.5 996.0,2019.8 999.0,2000.5 1002.0,2044.0 1005.0,2011.5 1008.0,1988.8 1011.0,2012.8 1014.0,2003.2 1017.0,2009.2 1020.0,2027.7 1023.0,2003.3 1026.0,2004.1 1029.0,2027.4 1032.0,2015.3 1035.0,2028.7 1038.0,2017.6 1041.0,2006.7 1044.0,2014.4 1047.0,2026.6 1050.0,2024.1 1053.0,2015.6 1056.0,2016.3 1059.0,2015.0 1062.0,2010.8 1065.0,2034.2 1068.0,2016.5 1071.0,2006.1 1074.0,2012.3 1077.0,2023.6 1080.0,2023.0 1083.0,2015.9 1086.0,2011.2 1089.0,2017.7 1092.0,2002.2 1095.0,2005.8 1098.0,2025.4 1101.0,2013.7 1104.0,2021.7 1107.0,2029.7 1110.0,2063.0 1113.0,2018.9 1116.0,2038.6 1119.0,2025.2 1122.0,2015.9 1125.0,2026.1 1128.0,2023.3 1131.0,2011.7 1134.0,2020.5 1137.0,2018.4" fill="none" stroke="#005e00" stroke-width="15" stroke-linejoin="round" stroke-linecap="butt"/>
<polyline points="180.0,2147.8 185.5,2166.2 191.0,2165.0 196.5,2163.3 202.0,2150.9 207.5,2164.1 213.0,2167.3 218.5,2168.7 224.0,2155.9 229.5,2174.1 235.0,2155.0 240.5,2165.1 246.0,2180.8 251.5,2160.2 257.0,2162.0 262.5,2178.3 268.0,2163.3 273.5,2164.1 279.0,2169.4 284.5,2177.8 290.0,2144.4 295.5,2158.4 301.0,2156.6 306.5,2155.7 312.0,2158.0 317.5,2158.1 323.0,2169.8 328.5,2157.5 334.0,2167.9 339.5,2170.7 345.0,2159.0 350.5,2167.8 356.0,2183.2 361.5,2169.7 367.0,2159.8 372.5,2165.6 378.0,2156.8 383.5,2168.9 389.0,2174.9 394.5,2157.7 400.0,2163.9 405.5,2177.3 411.0,2160.7 416.5,2167.6 422.0,2155.1 427.5,2157.1 433.0,2160.1 438.5,2187.0 444.0,2161.1 449.5,2159.8 455.0,2159.3 460.5,2163.2 466.0,2171.3 471.5,2166.6 477.0,2185.1 482.5,2166.6 488.0,2178.8 493.5,2167.0 499.0,2170.2 504.5,2149.6 510.0,2162.7 515.5,2163.1 521.0,2161.3 526.5,2142.1 532.0,2172.3 537.5,2159.6 543.0,2158.9 548.5,2160.7 554.0,2160.8 559.5,2167.1 565.0,2148.3 570.5,2149.5 576.0,2159.5 581.5,2156.6 587.0,2152.1 592.5,2150.8 598.0,2148.9 603.5,2157.4 609.0,2170.4 614.5,2148.7 620.0,2175.2 625.5,2168.6 631.0,2155.7 636.5,2168.2 642.0,2145.9 647.5,2143.4 653.0,2147.9 658.5,2156.9 664.0,2157.8 669.5,2156.1 675.0,2162.4 680.5,2140.2 686.0,2166.6 691.5,2147.6 697.0,2155.3 702.5,2157.9 708.0,2150.5 713.5,2148.4 719.0,2152.1 724.5,2162.0 730.0,2168.1 735.5,2167.9 741.0,2152.3 746.5,2154.4 752.0,2197.0 757.5,2166.9 763.0,2142.1 768.5,2174.9 774.0,2157.7 779.5,2154.7 785.0,2166.0 790.5,2172.9 796.0,2166.1 801.5,2173.2 807.0,2164.1 812.5,2175.1 818.0,2175.3 823.5,2161.9 829.0,2177.3 834.5,2164.6 840.0,2163.8 845.5,2153.8 851.0,2160.1 856.5,2170.8 862.0,2150.0 867.5,2169.6 873.0,2166.7 878.5,2166.0 884.0,2141.2 889.5,2162.3 895.0,2169.8 900.5,2155.7 906.0,2164.3 911.5,2139.7 917.0,2170.2 922.5,2156.9 928.0,2172.3 933.5,2145.2 939.0,2170.6 944.5,2161.3 950.0,2171.8 955.5,2154.5 961.0,2157.6 966.5,2186.2 972.0,2155.6 977.5,2156.8 983.0,2161.2 988.5,2153.8 994.0,2175.9 999.5,2181.3 1005.0,2157.0 1010.5,2146.9 1016.0,2175.9 1021.5,2175.3 1027.0,2172.5 1032.5,2175.8 1038.0,2155.6 1043.5,2162.7 1049.0,2150.5 1054.5,2150.2 1060.0,2174.3 1065.5,2157.8 1071.0,2187.3 1076.5,2165.3 1082.0,2158.2 1087.5,2172.6 1093.0,2192.0 1098.5,2169.6 1104.0,2152.6 1109.5,2168.5 1115.0,2178.6 1120.5,2159.9 1126.0,2157.2 1131.5,2175.1 1137.0,2166.4" fill="none" stroke="#000" stroke-width="13" stroke-linejoin="round" stroke-linecap="butt"/>
<polyline points="1367.0,1806.7 1370.0,1810.6 1373.0,1811.2 1376.0,1816.1 1379.0,1817.3 1382.0,1822.2 1385.0,1822.6 1388.0,1814.3 1391.0,1818.7 1394.0,1818.7 1397.0,1815.9 1400.0,1816.1 1403.0,1809.9 1406.0,1807.1 1409.0,1811.3 1412.0,1804.3 1415.0,1800.3 1418.0,1809.1 1421.0,1803.1 1424.0,1803.6 1427.0,1799.6 1430.0,1799.0 1433.0,1798.8 1436.0,1800.4 1439.0,1801.8 1442.0,1793.1 1445.0,1801.5 1448.0,1794.9 1451.0,1794.8 1454.0,1801.3 1457.0,1800.3 1460.0,1797.2 1463.0,1808.6 1466.0,1801.7 1469.0,1806.3 1472.0,1807.2 1475.0,1811.7 1478.0,1807.0 1481.0,1812.3 1484.0,1808.0 1487.0,1814.5 1490.0,1809.7 1493.0,1813.0 1496.0,1821.8 1499.0,1819.1 1502.0,1820.6 1505.0,1829.0 1508.0,1822.8 1511.0,1817.4 1514.0,1820.2 1517.0,1812.6 1520.0,1817.6 1523.0,1816.0 1526.0,1808.8 1529.0,1806.7 1532.0,1807.9 1535.0,1806.4 1538.0,1802.4 1541.0,1806.1 1544.0,1797.3 1547.0,1801.1 1550.0,1800.2 1553.0,1799.6 1556.0,1800.4 1559.0,1794.8 1562.0,1800.1 1565.0,1799.3 1568.0,1799.4 1571.0,1798.8 1574.0,1800.9 1577.0,1807.7 1580.0,1806.2 1583.0,1811.7 1586.0,1817.1 1589.0,1819.5 1592.0,1822.3 1595.0,1815.4 1598.0,1811.8 1601.0,1816.9 1604.0,1813.5 1607.0,1814.6 1610.0,1810.0 1613.0,1814.5 1616.0,1814.3 1619.0,1814.8 1622.0,1815.1 1625.0,1815.7 1628.0,1816.1 1631.0,1817.0 1634.0,1820.2 1637.0,1816.5 1640.0,1823.5 1643.0,1818.3 1646.0,1821.9 1649.0,1818.9 1652.0,1818.8 1655.0,1825.9 1658.0,1819.2 1661.0,1816.6 1664.0,1817.1 1667.0,1816.4 1670.0,1822.0 1673.0,1814.2 1676.0,1814.6 1679.0,1806.9 1682.0,1809.1 1685.0,1809.0 1688.0,1811.4 1691.0,1802.9 1694.0,1805.8 1697.0,1803.9 1700.0,1793.9 1703.0,1790.9 1706.0,1784.2 1709.0,1772.0 1712.0,1774.8 1715.0,1771.5 1718.0,1765.5 1721.0,1759.7 1724.0,1765.1 1727.0,1758.4 1730.0,1747.3 1733.0,1735.1 1736.0,1714.7 1739.0,1701.6 1742.0,1681.3 1745.0,1676.3 1748.0,1669.7 1751.0,1659.5 1754.0,1652.5 1757.0,1639.1 1760.0,1631.5 1763.0,1622.6 1766.0,1603.2 1769.0,1583.6 1772.0,1574.2 1775.0,1565.0 1778.0,1553.9 1781.0,1552.2 1784.0,1547.8 1787.0,1552.6 1790.0,1548.0 1793.0,1543.0 1796.0,1539.0 1799.0,1543.3 1802.0,1535.2 1805.0,1534.4 1808.0,1536.8 1811.0,1538.0 1814.0,1542.5 1817.0,1544.1 1820.0,1558.6 1823.0,1557.9 1826.0,1565.5 1829.0,1552.5 1832.0,1553.1 1835.0,1538.8 1838.0,1542.5 1841.0,1550.0 1844.0,1555.5 1847.0,1548.7 1850.0,1547.2 1853.0,1540.2 1856.0,1533.9 1859.0,1493.7 1862.0,1487.0 1865.0,1479.9 1868.0,1474.8 1871.0,1452.5 1874.0,1441.2 1877.0,1441.2 1880.0,1427.9 1883.0,1435.0 1886.0,1437.3 1889.0,1440.2 1892.0,1430.2 1895.0,1426.9 1898.0,1432.4 1901.0,1452.7 1904.0,1463.5 1907.0,1470.3 1910.0,1479.5 1913.0,1485.3 1916.0,1491.3 1919.0,1507.8 1922.0,1516.9 1925.0,1529.6 1928.0,1551.2 1931.0,1578.4 1934.0,1599.6 1937.0,1627.9 1940.0,1660.7 1943.0,1686.1 1946.0,1690.8 1949.0,1697.0 1952.0,1706.1 1955.0,1716.0 1958.0,1724.8 1961.0,1741.7 1964.0,1749.7 1967.0,1760.3 1970.0,1777.0 1973.0,1776.4 1976.0,1779.4 1979.0,1782.7 1982.0,1784.4 1985.0,1783.2 1988.0,1788.9 1991.0,1790.8 1994.0,1803.0 1997.0,1796.7 2000.0,1788.5 2003.0,1788.8 2006.0,1790.2 2009.0,1790.0 2012.0,1794.5 2015.0,1793.5 2018.0,1788.2 2021.0,1796.9 2024.0,1804.2 2027.0,1809.0 2030.0,1808.9 2033.0,1816.8 2036.0,1809.3 2039.0,1802.9 2042.0,1807.4 2045.0,1810.0 2048.0,1806.2 2051.0,1807.6 2054.0,1809.3 2057.0,1809.6 2060.0,1806.4 2063.0,1802.4 2066.0,1805.7 2069.0,1799.9 2072.0,1798.2 2075.0,1793.8 2078.0,1793.8 2081.0,1797.1 2084.0,1790.1 2087.0,1794.6 2090.0,1796.7 2093.0,1793.2 2096.0,1794.8 2099.0,1790.6 2102.0,1797.6 2105.0,1796.8 2108.0,1794.0 2111.0,1787.8 2114.0,1789.7 2117.0,1798.6 2120.0,1804.6 2123.0,1804.1 2126.0,1808.6 2129.0,1801.7 2132.0,1801.6 2135.0,1800.9 2138.0,1800.9 2141.0,1793.7 2144.0,1799.8 2147.0,1799.6 2150.0,1790.9 2153.0,1789.0 2156.0,1792.8 2159.0,1788.5 2162.0,1782.0 2165.0,1790.2 2168.0,1787.5 2171.0,1784.8 2174.0,1791.8 2177.0,1785.2 2180.0,1781.7 2183.0,1783.5 2186.0,1779.8 2189.0,1781.4 2192.0,1785.6 2195.0,1783.5 2198.0,1784.5 2201.0,1791.6 2204.0,1789.9 2207.0,1790.5 2210.0,1790.4 2213.0,1791.0 2216.0,1794.4 2219.0,1789.9 2222.0,1795.6 2225.0,1787.1 2228.0,1789.2 2231.0,1785.9 2234.0,1789.0 2237.0,1791.6 2240.0,1794.4 2243.0,1788.0 2246.0,1790.0 2249.0,1788.9 2252.0,1787.8 2255.0,1786.4 2258.0,1790.2 2261.0,1784.8 2264.0,1790.3 2267.0,1789.6 2270.0,1786.4 2273.0,1784.3 2276.0,1782.1 2279.0,1790.7 2282.0,1780.0 2285.0,1787.6 2288.0,1786.4 2291.0,1786.0 2294.0,1786.2 2297.0,1795.3 2300.0,1799.8 2303.0,1790.0 2306.0,1788.4 2309.0,1789.0 2312.0,1783.3 2315.0,1784.9 2318.0,1781.8 2321.0,1793.7" fill="none" stroke="#005e00" stroke-width="9.5" stroke-linejoin="round" stroke-linecap="butt"/>
<polyline points="1367.8,2202.3 1370.8,2209.9 1373.8,2206.3 1376.8,2203.9 1379.8,2206.2 1382.8,2204.6 1385.8,2206.8 1388.8,2201.3 1391.8,2200.3 1394.8,2200.9 1397.8,2203.9 1400.8,2202.1 1403.8,2205.3 1406.8,2205.6 1409.8,2205.3 1412.8,2207.2 1415.8,2208.3 1418.8,2207.8 1421.8,2211.6 1424.8,2206.4 1427.8,2210.4 1430.8,2209.5 1433.8,2207.0 1436.8,2205.3 1439.8,2205.7 1442.8,2206.4 1445.8,2206.3 1448.8,2205.2 1451.8,2206.6 1454.8,2203.9 1457.8,2205.5 1460.8,2202.4 1463.8,2206.7 1466.8,2205.7 1469.8,2204.8 1472.8,2207.8 1475.8,2207.1 1478.8,2200.7 1481.8,2205.8 1484.8,2203.0 1487.8,2207.4 1490.8,2209.8 1493.8,2204.3 1496.8,2205.3 1499.8,2204.6 1502.8,2205.5 1505.8,2205.9 1508.8,2207.0 1511.8,2203.5 1514.8,2209.6 1517.8,2206.6 1520.8,2210.2 1523.8,2213.3 1526.8,2214.0 1529.8,2211.6 1532.8,2211.3 1535.8,2210.9 1538.8,2210.9 1541.8,2212.3 1544.8,2207.1 1547.8,2209.5 1550.8,2209.0 1553.8,2208.2 1556.8,2208.3 1559.8,2210.8 1562.8,2209.6 1565.8,2210.9 1568.8,2211.0 1571.8,2213.8 1574.8,2207.8 1577.8,2214.1 1580.8,2211.9 1583.8,2212.5 1586.8,2211.9 1589.8,2210.9 1592.8,2214.2 1595.8,2212.8 1598.8,2213.6 1601.8,2208.8 1604.8,2212.8 1607.8,2209.5 1610.8,2208.9 1613.8,2209.6 1616.8,2210.9 1619.8,2211.6 1622.8,2212.9 1625.8,2214.0 1628.8,2213.9 1631.8,2211.9 1634.8,2214.2 1637.8,2213.2 1640.8,2215.3 1643.8,2218.6 1646.8,2216.6 1649.8,2215.1 1652.8,2212.9 1655.8,2213.5 1658.8,2212.6 1661.8,2214.3 1664.8,2209.0 1667.8,2207.8 1670.8,2205.3 1673.8,2205.8 1676.8,2207.3 1679.8,2202.8 1682.8,2202.6 1685.8,2200.9 1688.8,2203.2 1691.8,2198.9 1694.8,2197.9 1697.8,2196.7 1700.8,2195.7 1703.8,2198.2 1706.8,2201.1 1709.8,2193.8 1712.8,2194.4 1715.8,2190.2 1718.8,2184.8 1721.8,2183.3 1724.8,2180.4 1727.8,2176.6 1730.8,2181.0 1733.8,2174.4 1736.8,2178.9 1739.8,2179.1 1742.8,2171.5 1745.8,2162.8 1748.8,2160.1 1751.8,2156.4 1754.8,2154.5 1757.8,2152.5 1760.8,2141.5 1763.8,2137.4 1766.8,2131.2 1769.8,2122.1 1772.8,2115.4 1775.8,2104.3 1778.8,2099.8 1781.8,2091.8 1784.8,2085.4 1787.8,2078.6 1790.8,2065.3 1793.8,2054.9 1796.8,2036.2 1799.8,2031.8 1802.8,2025.4 1805.8,2017.0 1808.8,2005.3 1811.8,1997.4 1814.8,1976.8 1817.8,1964.3 1820.8,1956.4 1823.8,1953.4 1826.8,1949.9 1829.8,1934.1 1832.8,1917.1 1835.8,1905.7 1838.8,1910.7 1841.8,1909.4 1844.8,1915.9 1847.8,1916.1 1850.8,1910.7 1853.8,1908.8 1856.8,1904.4 1859.8,1900.2 1862.8,1889.9 1865.8,1888.3 1868.8,1889.7 1871.8,1893.9 1874.8,1900.3 1877.8,1902.2 1880.8,1896.7 1883.8,1891.5 1886.8,1888.6 1889.8,1892.3 1892.8,1895.1 1895.8,1894.6 1898.8,1897.4 1901.8,1890.3 1904.8,1886.6 1907.8,1882.8 1910.8,1873.0 1913.8,1857.9 1916.8,1851.2 1919.8,1849.4 1922.8,1847.1 1925.8,1846.9 1928.8,1842.3 1931.8,1841.1 1934.8,1836.6 1937.8,1833.6 1940.8,1831.8 1943.8,1833.5 1946.8,1836.5 1949.8,1840.9 1952.8,1848.6 1955.8,1855.2 1958.8,1863.1 1961.8,1864.5 1964.8,1883.5 1967.8,1900.9 1970.8,1920.6 1973.8,1936.3 1976.8,1947.7 1979.8,1965.4 1982.8,1986.0 1985.8,2000.6 1988.8,2018.9 1991.8,2032.0 1994.8,2053.1 1997.8,2082.1 2000.8,2088.8 2003.8,2100.4 2006.8,2109.8 2009.8,2126.7 2012.8,2134.2 2015.8,2140.2 2018.8,2148.7 2021.8,2158.6 2024.8,2170.6 2027.8,2176.0 2030.8,2175.5 2033.8,2187.2 2036.8,2187.2 2039.8,2194.7 2042.8,2199.8 2045.8,2201.9 2048.8,2204.0 2051.8,2207.4 2054.8,2210.5 2057.8,2212.7 2060.8,2213.4 2063.8,2213.0 2066.8,2217.1 2069.8,2215.1 2072.8,2217.1 2075.8,2215.1 2078.8,2217.4 2081.8,2220.9 2084.8,2226.0 2087.8,2227.9 2090.8,2226.3 2093.8,2224.2 2096.8,2223.5 2099.8,2227.4 2102.8,2223.5 2105.8,2223.3 2108.8,2226.3 2111.8,2225.5 2114.8,2224.3 2117.8,2222.5 2120.8,2227.3 2123.8,2223.6 2126.8,2223.7 2129.8,2222.3 2132.8,2220.6 2135.8,2221.3 2138.8,2225.1 2141.8,2225.6 2144.8,2225.1 2147.8,2224.0 2150.8,2224.1 2153.8,2226.7 2156.8,2225.3 2159.8,2229.0 2162.8,2228.7 2165.8,2231.0 2168.8,2226.7 2171.8,2223.3 2174.8,2222.1 2177.8,2216.7 2180.8,2221.1 2183.8,2221.1 2186.8,2222.4 2189.8,2221.0 2192.8,2221.9 2195.8,2222.4 2198.8,2224.4 2201.8,2227.0 2204.8,2223.7 2207.8,2226.0 2210.8,2225.5 2213.8,2232.1 2216.8,2232.7 2219.8,2231.5 2222.8,2227.1 2225.8,2228.6 2228.8,2227.0 2231.8,2226.6 2234.8,2225.2 2237.8,2225.6 2240.8,2223.4 2243.8,2225.9 2246.8,2225.1 2249.8,2224.5 2252.8,2225.1 2255.8,2224.8 2258.8,2227.3 2261.8,2225.7 2264.8,2227.0 2267.8,2226.0 2270.8,2224.2 2273.8,2228.6 2276.8,2225.2 2279.8,2228.5 2282.8,2228.2 2285.8,2224.6 2288.8,2226.0 2291.8,2226.9 2294.8,2226.5 2297.8,2225.3 2300.8,2228.2 2303.8,2225.8 2306.8,2226.3 2309.8,2224.3 2312.8,2225.0 2315.8,2222.5 2318.8,2223.2 2321.8,2223.7" fill="none" stroke="#000" stroke-width="9" stroke-linejoin="round" stroke-linecap="butt"/>
<line x1="822.5" y1="208.5" x2="822.5" y2="373.2" stroke="#000" stroke-width="4"/>
<line x1="824.5" y1="243.0" x2="890.6" y2="243.0" stroke="#000" stroke-width="3"/>
<polygon points="828.5,239.5 838.0,239.5 838.0,237.5 845.5,237.5 845.5,248.5 838.0,248.5 838.0,246.5 828.5,246.5" fill="#000" stroke="#000" stroke-width="1.5" stroke-linejoin="round"/>
<text x="897.7" y="264.3" font-size="53.5" stroke="#000" stroke-width="1.25" textLength="174.7" lengthAdjust="spacingAndGlyphs" fill="#000">0.92 eV</text>
<line x1="877.5" y1="480.8" x2="877.5" y2="617.8" stroke="#000" stroke-width="4"/>
<line x1="2093.0" y1="262.4" x2="2093.0" y2="466.0" stroke="#000" stroke-width="4"/>
<line x1="2129.0" y1="270.2" x2="2129.0" y2="741.3" stroke="#000" stroke-width="3.5"/>
<line x1="2084.5" y1="263.3" x2="2141.6" y2="263.3" stroke="#000" stroke-width="3"/>
<polygon points="2092.0,259.8 2099.7,259.8 2099.7,257.8 2106.6,257.8 2106.6,268.8 2099.7,268.8 2099.7,266.8 2092.0,266.8" fill="#000" stroke="#000" stroke-width="1.5" stroke-linejoin="round"/>
<text x="2096.9" y="231.0" font-size="53.5" stroke="#000" stroke-width="1.25" textLength="175.6" lengthAdjust="spacingAndGlyphs" fill="#000">0.77 eV</text>
<line x1="859.0" y1="1313.3" x2="859.0" y2="1677.7" stroke="#000" stroke-width="2.6"/>
<line x1="875.0" y1="1597.3" x2="875.0" y2="1974.0" stroke="#000" stroke-width="2.6"/>
<line x1="851.0" y1="1576.2" x2="913.5" y2="1576.2" stroke="#000" stroke-width="3"/>
<polygon points="860.0,1573.2 867.0,1573.2 867.0,1570.2 874.0,1570.2 874.0,1582.2 867.0,1582.2 867.0,1579.2 860.0,1579.2" fill="#000" stroke="#000" stroke-width="1.5" stroke-linejoin="round"/>
<text x="931.0" y="1597.3" font-size="53.5" stroke="#000" stroke-width="1.25" textLength="177.2" lengthAdjust="spacingAndGlyphs" fill="#000">0.24 eV</text>
<line x1="1887.8" y1="1356.0" x2="1887.8" y2="1574.4" stroke="#000" stroke-width="2.8"/>
<line x1="1939.2" y1="1492.7" x2="1939.2" y2="1975.7" stroke="#000" stroke-width="2.8"/>
<line x1="1884.0" y1="1510.0" x2="1949.4" y2="1510.0" stroke="#000" stroke-width="3"/>
<polygon points="1891.5,1507.0 1899.9,1507.0 1899.9,1504.7 1907.4,1504.7 1907.4,1515.3 1899.9,1515.3 1899.9,1513.0 1891.5,1513.0" fill="#000" stroke="#000" stroke-width="1.5" stroke-linejoin="round"/>
<text x="1964.3" y="1521.2" font-size="53.5" stroke="#000" stroke-width="1.25" textLength="175.4" lengthAdjust="spacingAndGlyphs" fill="#000">0.54 eV</text>
<text x="182.5" y="403.5" font-size="51.5" stroke="#000" stroke-width="1.25" textLength="110.6" lengthAdjust="spacingAndGlyphs" fill="#000">PbCl</text>
<text x="293.3" y="424.2" font-size="30.0" stroke="#000" stroke-width="0.50" textLength="17.8" lengthAdjust="spacingAndGlyphs" fill="#000">2</text>
<text x="182.8" y="483.4" font-size="51.5" stroke="#000" stroke-width="1.25" textLength="223.0" lengthAdjust="spacingAndGlyphs" fill="#000">(10.0 nm)</text>
<text x="186.8" y="603.5" font-size="51.5" stroke="#000" stroke-width="1.25" textLength="110.6" lengthAdjust="spacingAndGlyphs" fill="#000">PbCl</text>
<text x="297.6" y="624.6" font-size="30.0" stroke="#000" stroke-width="0.50" textLength="18.1" lengthAdjust="spacingAndGlyphs" fill="#000">2</text>
<text x="187.4" y="681.3" font-size="51.5" stroke="#000" stroke-width="1.25" textLength="193.7" lengthAdjust="spacingAndGlyphs" fill="#000">(0.2 nm)</text>
<text x="197.5" y="838.5" font-size="47.4" stroke="#000" stroke-width="1.25" textLength="85.9" lengthAdjust="spacingAndGlyphs" fill="#000">MAI</text>
<text x="294.4" y="836.7" font-size="53.0" stroke="#000" stroke-width="1.25" textLength="221.6" lengthAdjust="spacingAndGlyphs" fill="#000">(10.0 nm)</text>
<text x="1615.5" y="559.5" font-size="53.0" stroke="#000" stroke-width="1.25" textLength="108.9" lengthAdjust="spacingAndGlyphs" fill="#000">PbCl</text>
<text x="1723.1" y="586.7" font-size="55.0" stroke="#000" stroke-width="1.25" textLength="31.7" lengthAdjust="spacingAndGlyphs" fill="#000">2</text>
<text x="1764.8" y="559.5" font-size="53.0" stroke="#000" stroke-width="1.25" textLength="221.8" lengthAdjust="spacingAndGlyphs" fill="#000">(10.0 nm)</text>
<text x="1660.0" y="932.9" font-size="52.0" stroke="#000" stroke-width="1.25" textLength="326.6" lengthAdjust="spacingAndGlyphs" fill="#000">MAI (10.0 nm)</text>
<text x="189.1" y="1594.5" font-size="52.0" stroke="#000" stroke-width="1.25" textLength="77.7" lengthAdjust="spacingAndGlyphs" fill="#000">PbI</text>
<text x="265.4" y="1616.0" font-size="31.0" stroke="#000" stroke-width="0.50" textLength="20.1" lengthAdjust="spacingAndGlyphs" fill="#000">2</text>
<text x="292.6" y="1594.5" font-size="52.0" stroke="#000" stroke-width="1.25" textLength="220.3" lengthAdjust="spacingAndGlyphs" fill="#000">(10.0 nm)</text>
<text x="198.2" y="1934.3" font-size="52.0" stroke="#000" stroke-width="1.25" textLength="76.5" lengthAdjust="spacingAndGlyphs" fill="#000">PbI</text>
<text x="273.2" y="1954.8" font-size="29.0" stroke="#000" stroke-width="0.50" textLength="17.6" lengthAdjust="spacingAndGlyphs" fill="#000">2</text>
<text x="308.1" y="1934.3" font-size="52.0" stroke="#000" stroke-width="1.25" textLength="191.9" lengthAdjust="spacingAndGlyphs" fill="#000">(0.2 nm)</text>
<text x="196.4" y="2112.0" font-size="52.0" stroke="#000" stroke-width="1.25" textLength="363.2" lengthAdjust="spacingAndGlyphs" fill="#000">MABr (10.0 nm)</text>
<text x="1382.9" y="1749.0" font-size="52.0" stroke="#000" stroke-width="1.25" textLength="77.8" lengthAdjust="spacingAndGlyphs" fill="#000">PbI</text>
<text x="1459.3" y="1771.5" font-size="31.0" stroke="#000" stroke-width="0.50" textLength="19.2" lengthAdjust="spacingAndGlyphs" fill="#000">2</text>
<text x="1491.7" y="1749.0" font-size="52.0" stroke="#000" stroke-width="1.25" textLength="218.9" lengthAdjust="spacingAndGlyphs" fill="#000">(10.0 nm)</text>
<text x="1381.8" y="2145.0" font-size="52.0" stroke="#000" stroke-width="1.25" textLength="362.6" lengthAdjust="spacingAndGlyphs" fill="#000">MABr (10.0 nm)</text>
</svg>
</body></html>
